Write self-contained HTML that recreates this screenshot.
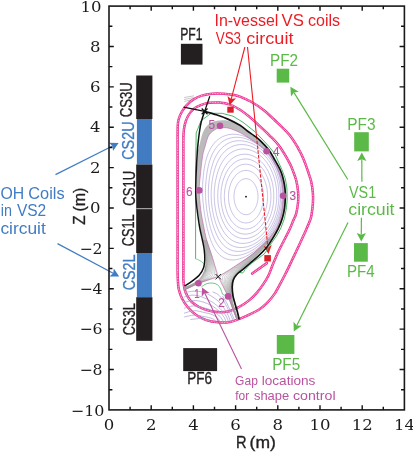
<!DOCTYPE html>
<html><head><meta charset="utf-8"><title>ITER PF/CS/VS coil layout</title>
<style>html,body{margin:0;padding:0;background:#fff}svg{display:block}</style></head>
<body>
<svg width="413" height="452" viewBox="0 0 413 452">
<rect width="413" height="452" fill="#fff"/>
<g id="coils">
<rect x="136.2" y="75.5" width="16.2" height="43.5" fill="#231f20"/>
<rect x="136.9" y="119.0" width="15.0" height="45.5" fill="#417cc3"/>
<rect x="136.2" y="164.5" width="16.2" height="43.9" fill="#231f20"/>
<rect x="136.2" y="208.4" width="16.2" height="44.6" fill="#231f20"/>
<rect x="136.9" y="253.0" width="15.0" height="44.2" fill="#417cc3"/>
<rect x="136.2" y="297.2" width="16.2" height="43.6" fill="#231f20"/>
<rect x="136.2" y="208.0" width="16.2" height="1.2" fill="#a0a0a0"/>
<rect x="180.9" y="43.8" width="21.6" height="20.8" fill="#231f20"/>
<rect x="183.2" y="348.1" width="33.9" height="23" fill="#231f20"/>
<rect x="276.7" y="68.7" width="12.5" height="13.9" fill="#5bb947"/>
<rect x="354.2" y="132.2" width="14.6" height="19.2" fill="#5bb947"/>
<rect x="354.0" y="243.1" width="13.8" height="18.6" fill="#5bb947"/>
<rect x="276.8" y="335.0" width="17.6" height="18.9" fill="#5bb947"/>
</g>
<g id="vessel">
<path d="M177.60 270.00 C177.63 273.95 177.62 275.55 177.80 278.70 C177.98 281.85 177.95 285.52 178.70 288.90 C179.45 292.28 180.72 295.85 182.30 299.00 C183.88 302.15 185.88 305.13 188.20 307.80 C190.52 310.47 193.18 312.95 196.20 315.00 C199.22 317.05 202.68 318.88 206.30 320.10 C209.92 321.32 213.95 321.98 217.90 322.30 C221.85 322.62 226.40 322.58 230.00 322.00 C233.60 321.42 236.47 319.95 239.50 318.80 C242.53 317.65 245.05 316.57 248.20 315.10 C251.35 313.63 255.25 312.05 258.40 310.00 C261.55 307.95 264.43 305.45 267.10 302.80 C269.77 300.15 272.22 297.25 274.40 294.10 C276.58 290.95 278.50 287.00 280.20 283.90 C281.90 280.80 283.23 278.17 284.60 275.50 C285.97 272.83 286.80 271.22 288.40 267.90 C290.00 264.58 292.27 259.72 294.20 255.60 C296.13 251.48 298.05 247.43 300.00 243.20 C301.95 238.97 304.20 234.07 305.90 230.20 C307.60 226.33 309.27 222.53 310.20 220.00 C311.13 217.47 311.05 217.77 311.50 215.00 C311.95 212.23 312.67 207.03 312.90 203.40 C313.13 199.77 313.18 196.83 312.90 193.20 C312.62 189.57 311.98 185.13 311.20 181.60 C310.42 178.07 309.47 175.73 308.20 172.00 C306.93 168.27 305.33 163.27 303.60 159.20 C301.87 155.13 300.22 151.72 297.80 147.60 C295.38 143.48 292.98 139.10 289.10 134.50 C285.22 129.90 278.82 124.12 274.50 120.00 C270.18 115.88 267.02 112.80 263.20 109.80 C259.38 106.80 255.47 104.20 251.60 102.00 C247.73 99.80 242.97 97.78 240.00 96.60 C237.03 95.42 236.53 95.38 233.80 94.90 C231.07 94.42 227.23 93.90 223.60 93.70 C219.97 93.50 215.63 93.38 212.00 93.70 C208.37 94.02 204.88 94.65 201.80 95.60 C198.72 96.55 196.05 97.78 193.50 99.40 C190.95 101.02 188.47 103.20 186.50 105.30 C184.53 107.40 182.98 109.72 181.70 112.00 C180.42 114.28 179.47 116.42 178.80 119.00 C178.13 121.58 177.90 120.67 177.70 127.50 C177.50 134.33 177.62 147.92 177.60 160.00 C177.58 172.08 177.60 186.67 177.60 200.00 C177.60 213.33 177.60 230.83 177.60 240.00 C177.60 249.17 177.60 250.00 177.60 255.00 C177.60 260.00 177.57 266.05 177.60 270.00Z" fill="none" stroke="#ec2a8f" stroke-width="2.5"/>
<path d="M177.60 270.00 C177.63 273.95 177.62 275.55 177.80 278.70 C177.98 281.85 177.95 285.52 178.70 288.90 C179.45 292.28 180.72 295.85 182.30 299.00 C183.88 302.15 185.88 305.13 188.20 307.80 C190.52 310.47 193.18 312.95 196.20 315.00 C199.22 317.05 202.68 318.88 206.30 320.10 C209.92 321.32 213.95 321.98 217.90 322.30 C221.85 322.62 226.40 322.58 230.00 322.00 C233.60 321.42 236.47 319.95 239.50 318.80 C242.53 317.65 245.05 316.57 248.20 315.10 C251.35 313.63 255.25 312.05 258.40 310.00 C261.55 307.95 264.43 305.45 267.10 302.80 C269.77 300.15 272.22 297.25 274.40 294.10 C276.58 290.95 278.50 287.00 280.20 283.90 C281.90 280.80 283.23 278.17 284.60 275.50 C285.97 272.83 286.80 271.22 288.40 267.90 C290.00 264.58 292.27 259.72 294.20 255.60 C296.13 251.48 298.05 247.43 300.00 243.20 C301.95 238.97 304.20 234.07 305.90 230.20 C307.60 226.33 309.27 222.53 310.20 220.00 C311.13 217.47 311.05 217.77 311.50 215.00 C311.95 212.23 312.67 207.03 312.90 203.40 C313.13 199.77 313.18 196.83 312.90 193.20 C312.62 189.57 311.98 185.13 311.20 181.60 C310.42 178.07 309.47 175.73 308.20 172.00 C306.93 168.27 305.33 163.27 303.60 159.20 C301.87 155.13 300.22 151.72 297.80 147.60 C295.38 143.48 292.98 139.10 289.10 134.50 C285.22 129.90 278.82 124.12 274.50 120.00 C270.18 115.88 267.02 112.80 263.20 109.80 C259.38 106.80 255.47 104.20 251.60 102.00 C247.73 99.80 242.97 97.78 240.00 96.60 C237.03 95.42 236.53 95.38 233.80 94.90 C231.07 94.42 227.23 93.90 223.60 93.70 C219.97 93.50 215.63 93.38 212.00 93.70 C208.37 94.02 204.88 94.65 201.80 95.60 C198.72 96.55 196.05 97.78 193.50 99.40 C190.95 101.02 188.47 103.20 186.50 105.30 C184.53 107.40 182.98 109.72 181.70 112.00 C180.42 114.28 179.47 116.42 178.80 119.00 C178.13 121.58 177.90 120.67 177.70 127.50 C177.50 134.33 177.62 147.92 177.60 160.00 C177.58 172.08 177.60 186.67 177.60 200.00 C177.60 213.33 177.60 230.83 177.60 240.00 C177.60 249.17 177.60 250.00 177.60 255.00 C177.60 260.00 177.57 266.05 177.60 270.00Z" fill="none" stroke="#fab8d7" stroke-width="1.1" stroke-dasharray="1.0 0.6"/>
<path d="M183.40 270.00 C183.40 274.20 183.22 277.05 183.40 280.20 C183.58 283.35 183.83 286.23 184.50 288.90 C185.17 291.57 186.18 294.02 187.40 296.20 C188.62 298.38 189.85 300.20 191.80 302.00 C193.75 303.80 196.43 305.60 199.10 307.00 C201.77 308.40 204.67 309.55 207.80 310.40 C210.93 311.25 214.53 311.92 217.90 312.10 C221.27 312.28 224.77 312.20 228.00 311.50 C231.23 310.80 234.90 308.98 237.30 307.90 C239.70 306.82 240.33 306.33 242.40 305.00 C244.47 303.67 247.27 301.97 249.70 299.90 C252.13 297.83 254.70 295.27 257.00 292.60 C259.30 289.93 261.57 286.80 263.50 283.90 C265.43 281.00 267.08 278.35 268.60 275.20 C270.12 272.05 271.00 268.87 272.60 265.00 C274.20 261.13 276.28 256.12 278.20 252.00 C280.12 247.88 282.15 244.18 284.10 240.30 C286.05 236.42 288.33 232.08 289.90 228.70 C291.47 225.32 292.45 222.52 293.50 220.00 C294.55 217.48 295.43 216.60 296.20 213.60 C296.97 210.60 297.78 205.63 298.10 202.00 C298.42 198.37 298.42 195.43 298.10 191.80 C297.78 188.17 297.08 183.75 296.20 180.20 C295.32 176.65 293.98 173.52 292.80 170.50 C291.62 167.48 291.42 166.25 289.10 162.10 C286.78 157.95 282.18 150.07 278.90 145.60 C275.62 141.13 272.55 138.50 269.40 135.30 C266.25 132.10 262.97 129.18 260.00 126.40 C257.03 123.62 254.93 121.37 251.60 118.60 C248.27 115.83 243.70 112.17 240.00 109.80 C236.30 107.43 232.87 105.60 229.40 104.40 C225.93 103.20 222.58 102.88 219.20 102.60 C215.82 102.32 212.20 102.28 209.10 102.70 C206.00 103.12 203.17 104.07 200.60 105.10 C198.03 106.13 195.80 107.08 193.70 108.90 C191.60 110.72 189.48 113.38 188.00 116.00 C186.52 118.62 185.55 121.50 184.80 124.60 C184.05 127.70 183.73 128.70 183.50 134.60 C183.27 140.50 183.42 149.10 183.40 160.00 C183.38 170.90 183.40 186.67 183.40 200.00 C183.40 213.33 183.40 230.83 183.40 240.00 C183.40 249.17 183.40 250.00 183.40 255.00 C183.40 260.00 183.40 265.80 183.40 270.00Z" fill="none" stroke="#ec2a8f" stroke-width="2.5"/>
<path d="M183.40 270.00 C183.40 274.20 183.22 277.05 183.40 280.20 C183.58 283.35 183.83 286.23 184.50 288.90 C185.17 291.57 186.18 294.02 187.40 296.20 C188.62 298.38 189.85 300.20 191.80 302.00 C193.75 303.80 196.43 305.60 199.10 307.00 C201.77 308.40 204.67 309.55 207.80 310.40 C210.93 311.25 214.53 311.92 217.90 312.10 C221.27 312.28 224.77 312.20 228.00 311.50 C231.23 310.80 234.90 308.98 237.30 307.90 C239.70 306.82 240.33 306.33 242.40 305.00 C244.47 303.67 247.27 301.97 249.70 299.90 C252.13 297.83 254.70 295.27 257.00 292.60 C259.30 289.93 261.57 286.80 263.50 283.90 C265.43 281.00 267.08 278.35 268.60 275.20 C270.12 272.05 271.00 268.87 272.60 265.00 C274.20 261.13 276.28 256.12 278.20 252.00 C280.12 247.88 282.15 244.18 284.10 240.30 C286.05 236.42 288.33 232.08 289.90 228.70 C291.47 225.32 292.45 222.52 293.50 220.00 C294.55 217.48 295.43 216.60 296.20 213.60 C296.97 210.60 297.78 205.63 298.10 202.00 C298.42 198.37 298.42 195.43 298.10 191.80 C297.78 188.17 297.08 183.75 296.20 180.20 C295.32 176.65 293.98 173.52 292.80 170.50 C291.62 167.48 291.42 166.25 289.10 162.10 C286.78 157.95 282.18 150.07 278.90 145.60 C275.62 141.13 272.55 138.50 269.40 135.30 C266.25 132.10 262.97 129.18 260.00 126.40 C257.03 123.62 254.93 121.37 251.60 118.60 C248.27 115.83 243.70 112.17 240.00 109.80 C236.30 107.43 232.87 105.60 229.40 104.40 C225.93 103.20 222.58 102.88 219.20 102.60 C215.82 102.32 212.20 102.28 209.10 102.70 C206.00 103.12 203.17 104.07 200.60 105.10 C198.03 106.13 195.80 107.08 193.70 108.90 C191.60 110.72 189.48 113.38 188.00 116.00 C186.52 118.62 185.55 121.50 184.80 124.60 C184.05 127.70 183.73 128.70 183.50 134.60 C183.27 140.50 183.42 149.10 183.40 160.00 C183.38 170.90 183.40 186.67 183.40 200.00 C183.40 213.33 183.40 230.83 183.40 240.00 C183.40 249.17 183.40 250.00 183.40 255.00 C183.40 260.00 183.40 265.80 183.40 270.00Z" fill="none" stroke="#fab8d7" stroke-width="1.1" stroke-dasharray="1.0 0.6"/>
<path d="M252.2 273.5 L266.8 263.1" fill="none" stroke="#ec2a8f" stroke-width="2.7" stroke-linecap="round"/>
<path d="M252.2 273.5 L266.8 263.1" fill="none" stroke="#fab8d7" stroke-width="1.3" stroke-dasharray="1.0 0.7"/>
</g>
<g id="plasma">
<path d="M203.00 240.00 C202.53 237.83 201.10 232.33 200.20 227.00 C199.30 221.67 198.22 213.17 197.60 208.00 C196.98 202.83 196.68 199.83 196.50 196.00 C196.32 192.17 196.43 189.00 196.50 185.00 C196.57 181.00 196.67 177.50 196.90 172.00 C197.13 166.50 197.62 155.83 197.90 152.00 C198.18 148.17 198.27 150.42 198.60 149.00 C198.93 147.58 199.40 145.58 199.90 143.50 C200.40 141.42 200.98 138.58 201.60 136.50 C202.22 134.42 202.80 132.67 203.60 131.00 C204.40 129.33 205.33 127.78 206.40 126.50 C207.47 125.22 208.63 124.17 210.00 123.30 C211.37 122.43 212.85 121.78 214.60 121.30 C216.35 120.82 218.18 120.45 220.50 120.40 C222.82 120.35 225.25 120.18 228.50 121.00 C231.75 121.82 236.80 123.58 240.00 125.30 C243.20 127.02 245.37 129.58 247.70 131.30 C250.03 133.02 251.95 134.10 254.00 135.60 C256.05 137.10 257.55 137.93 260.00 140.30 C262.45 142.67 266.37 146.77 268.70 149.80 C271.03 152.83 272.07 155.13 274.00 158.50 C275.93 161.87 278.77 166.63 280.30 170.00 C281.83 173.37 282.42 175.55 283.20 178.70 C283.98 181.85 284.65 185.75 285.00 188.90 C285.35 192.05 285.37 194.45 285.30 197.60 C285.23 200.75 285.08 204.42 284.60 207.80 C284.12 211.18 283.47 214.42 282.40 217.90 C281.33 221.38 279.97 225.25 278.20 228.70 C276.43 232.15 272.87 236.95 271.80 238.60 L268.50 239.00 C269.83 237.08 274.45 231.33 276.50 227.50 C278.55 223.67 279.77 219.58 280.80 216.00 C281.83 212.42 282.32 209.37 282.70 206.00 C283.08 202.63 283.17 199.47 283.10 195.80 C283.03 192.13 282.98 187.88 282.30 184.00 C281.62 180.12 280.55 176.42 279.00 172.50 C277.45 168.58 275.07 164.03 273.00 160.50 C270.93 156.97 269.02 153.92 266.60 151.30 C264.18 148.68 261.27 146.88 258.50 144.80 C255.73 142.72 253.08 140.83 250.00 138.80 C246.92 136.77 243.67 134.40 240.00 132.60 C236.33 130.80 231.33 128.73 228.00 128.00 C224.67 127.27 222.07 127.98 220.00 128.20 C217.93 128.42 217.20 128.47 215.60 129.30 C214.00 130.13 211.73 131.75 210.40 133.20 C209.07 134.65 208.47 135.87 207.60 138.00 C206.73 140.13 206.03 143.00 205.20 146.00 C204.37 149.00 203.42 151.03 202.60 156.00 C201.78 160.97 200.87 170.07 200.30 175.80 C199.73 181.53 199.12 184.70 199.20 190.40 C199.28 196.10 200.10 204.23 200.80 210.00 C201.50 215.77 202.43 220.00 203.40 225.00 C204.37 230.00 206.07 237.50 206.60 240.00Z" fill="#bbbbbb" stroke="none"/>
<path d="M203.09 240.00 L203.49 241.78 L203.87 243.56 L204.25 245.35 L204.61 247.13 L204.94 248.92 L205.25 250.71 L205.53 252.50 L205.76 254.30 L205.95 256.10 L206.08 257.90 L206.14 259.70 L206.13 261.49 L206.03 263.26 L205.85 265.02 L205.57 266.74 L205.20 268.40 L204.74 270.00 L204.21 271.51 L203.61 272.93 L202.94 274.25 L202.24 275.46 L201.49 276.58 L200.71 277.61 L199.90 278.57 L199.06 279.45 L198.19 280.27 L197.28 281.04 L196.33 281.75 L195.36 282.42 L194.35 283.05 L193.32 283.63 L192.26 284.19 L191.18 284.71 L190.09 285.21 L188.99 285.68 L187.87 286.11 L186.73 286.52 L185.58 286.88 L184.42 287.20" fill="none" stroke="#a0a0a0" stroke-width="0.50"/>
<path d="M203.31 240.00 L203.71 241.79 L204.11 243.57 L204.49 245.36 L204.85 247.14 L205.18 248.93 L205.49 250.73 L205.75 252.52 L205.98 254.32 L206.16 256.12 L206.28 257.92 L206.33 259.72 L206.30 261.51 L206.19 263.29 L205.99 265.05 L205.70 266.77 L205.32 268.44 L204.85 270.05 L204.30 271.57 L203.69 272.99 L203.02 274.31 L202.31 275.52 L201.57 276.63 L200.80 277.65 L200.00 278.60 L199.17 279.48 L198.31 280.30 L197.41 281.06 L196.48 281.78 L195.51 282.44 L194.50 283.07 L193.47 283.66 L192.40 284.22 L191.32 284.76 L190.21 285.28 L189.09 285.76 L187.95 286.22 L186.79 286.65 L185.61 287.04 L184.42 287.40" fill="none" stroke="#a0a0a0" stroke-width="0.50"/>
<path d="M203.53 240.00 L203.95 241.79 L204.35 243.58 L204.74 245.37 L205.11 247.16 L205.44 248.95 L205.75 250.75 L206.02 252.55 L206.24 254.34 L206.42 256.15 L206.53 257.95 L206.57 259.75 L206.53 261.54 L206.41 263.32 L206.20 265.09 L205.90 266.82 L205.50 268.50 L205.01 270.11 L204.45 271.63 L203.83 273.06 L203.16 274.37 L202.45 275.58 L201.72 276.68 L200.96 277.70 L200.17 278.64 L199.36 279.51 L198.51 280.33 L197.62 281.09 L196.69 281.80 L195.71 282.46 L194.70 283.09 L193.66 283.68 L192.58 284.26 L191.48 284.81 L190.36 285.34 L189.21 285.85 L188.04 286.33 L186.86 286.79 L185.65 287.21 L184.43 287.60" fill="none" stroke="#a0a0a0" stroke-width="0.50"/>
<path d="M203.76 240.00 L204.19 241.79 L204.60 243.59 L205.00 245.39 L205.38 247.18 L205.73 248.98 L206.04 250.78 L206.31 252.57 L206.54 254.38 L206.72 256.18 L206.83 257.98 L206.87 259.78 L206.83 261.58 L206.70 263.37 L206.48 265.13 L206.16 266.87 L205.75 268.56 L205.25 270.18 L204.67 271.71 L204.04 273.13 L203.36 274.45 L202.66 275.64 L201.93 276.74 L201.18 277.75 L200.41 278.68 L199.61 279.54 L198.76 280.35 L197.88 281.11 L196.95 281.81 L195.97 282.48 L194.94 283.10 L193.88 283.70 L192.79 284.28 L191.67 284.84 L190.52 285.39 L189.34 285.93 L188.15 286.44 L186.93 286.92 L185.69 287.37 L184.44 287.79" fill="none" stroke="#a0a0a0" stroke-width="0.50"/>
<path d="M203.99 240.00 L204.43 241.80 L204.86 243.60 L205.27 245.40 L205.66 247.20 L206.02 249.00 L206.35 250.80 L206.63 252.61 L206.87 254.41 L207.05 256.21 L207.16 258.02 L207.21 259.82 L207.17 261.62 L207.04 263.41 L206.82 265.19 L206.49 266.93 L206.07 268.63 L205.56 270.25 L204.98 271.79 L204.33 273.22 L203.65 274.53 L202.95 275.72 L202.23 276.81 L201.49 277.80 L200.72 278.72 L199.93 279.58 L199.09 280.38 L198.20 281.13 L197.25 281.83 L196.26 282.49 L195.22 283.12 L194.14 283.72 L193.02 284.30 L191.87 284.88 L190.69 285.45 L189.48 286.00 L188.25 286.54 L187.00 287.05 L185.73 287.53 L184.45 287.98" fill="none" stroke="#a0a0a0" stroke-width="0.50"/>
<path d="M204.21 240.00 L204.67 241.81 L205.12 243.61 L205.55 245.42 L205.95 247.22 L206.33 249.03 L206.67 250.84 L206.96 252.64 L207.21 254.45 L207.41 256.26 L207.54 258.06 L207.59 259.87 L207.56 261.67 L207.44 263.47 L207.22 265.25 L206.90 267.00 L206.48 268.70 L205.96 270.34 L205.37 271.89 L204.72 273.32 L204.03 274.63 L203.33 275.81 L202.61 276.88 L201.88 277.86 L201.12 278.76 L200.32 279.61 L199.47 280.40 L198.57 281.15 L197.61 281.84 L196.59 282.50 L195.52 283.12 L194.41 283.73 L193.26 284.32 L192.08 284.91 L190.86 285.50 L189.63 286.08 L188.37 286.64 L187.08 287.18 L185.78 287.69 L184.46 288.17" fill="none" stroke="#a0a0a0" stroke-width="0.50"/>
<path d="M204.44 240.00 L204.92 241.81 L205.38 243.62 L205.83 245.44 L206.25 247.25 L206.64 249.06 L207.00 250.87 L207.31 252.68 L207.58 254.49 L207.79 256.30 L207.94 258.11 L208.01 259.92 L208.00 261.73 L207.90 263.53 L207.70 265.31 L207.38 267.07 L206.97 268.79 L206.45 270.44 L205.86 272.00 L205.20 273.43 L204.51 274.74 L203.81 275.91 L203.09 276.96 L202.36 277.92 L201.59 278.81 L200.78 279.64 L199.92 280.43 L198.99 281.16 L198.00 281.85 L196.95 282.50 L195.85 283.12 L194.70 283.73 L193.51 284.33 L192.29 284.94 L191.05 285.55 L189.78 286.15 L188.48 286.74 L187.16 287.30 L185.82 287.84 L184.46 288.35" fill="none" stroke="#a0a0a0" stroke-width="0.50"/>
<path d="M204.67 240.00 L205.17 241.82 L205.65 243.64 L206.11 245.45 L206.55 247.27 L206.96 249.09 L207.34 250.90 L207.67 252.72 L207.96 254.53 L208.20 256.35 L208.37 258.17 L208.47 259.98 L208.49 261.79 L208.41 263.60 L208.23 265.39 L207.95 267.16 L207.55 268.89 L207.05 270.56 L206.45 272.12 L205.80 273.57 L205.11 274.86 L204.40 276.02 L203.68 277.05 L202.94 277.99 L202.15 278.86 L201.32 279.68 L200.43 280.45 L199.46 281.17 L198.44 281.85 L197.35 282.50 L196.20 283.12 L195.01 283.73 L193.78 284.34 L192.52 284.96 L191.24 285.59 L189.93 286.22 L188.59 286.83 L187.24 287.43 L185.86 288.00 L184.47 288.54" fill="none" stroke="#a0a0a0" stroke-width="0.50"/>
<path d="M204.90 240.00 L205.41 241.82 L205.91 243.65 L206.39 245.47 L206.85 247.29 L207.28 249.12 L207.68 250.94 L208.05 252.76 L208.36 254.58 L208.63 256.40 L208.83 258.22 L208.96 260.04 L209.01 261.86 L208.97 263.67 L208.83 265.47 L208.58 267.25 L208.22 269.00 L207.75 270.68 L207.17 272.27 L206.53 273.72 L205.83 275.01 L205.12 276.14 L204.38 277.15 L203.61 278.06 L202.80 278.91 L201.93 279.71 L200.99 280.47 L199.98 281.18 L198.90 281.85 L197.76 282.49 L196.57 283.11 L195.33 283.73 L194.05 284.35 L192.75 284.99 L191.43 285.63 L190.08 286.28 L188.71 286.93 L187.31 287.55 L185.90 288.15 L184.48 288.72" fill="none" stroke="#a0a0a0" stroke-width="0.50"/>
<path d="M205.13 240.00 L205.66 241.83 L206.17 243.66 L206.67 245.49 L207.15 247.32 L207.61 249.15 L208.04 250.97 L208.43 252.80 L208.77 254.63 L209.07 256.46 L209.31 258.28 L209.48 260.11 L209.57 261.93 L209.58 263.75 L209.49 265.56 L209.30 267.35 L208.99 269.11 L208.57 270.82 L208.03 272.43 L207.39 273.89 L206.70 275.17 L205.97 276.29 L205.21 277.26 L204.40 278.14 L203.53 278.97 L202.61 279.75 L201.61 280.49 L200.54 281.19 L199.40 281.85 L198.20 282.48 L196.95 283.10 L195.66 283.72 L194.33 284.35 L192.99 285.01 L191.62 285.68 L190.23 286.35 L188.82 287.02 L187.39 287.67 L185.95 288.30 L184.49 288.90" fill="none" stroke="#a0a0a0" stroke-width="0.50"/>
<path d="M205.36 240.00 L205.90 241.84 L206.44 243.67 L206.96 245.51 L207.46 247.34 L207.94 249.18 L208.39 251.01 L208.81 252.84 L209.19 254.68 L209.53 256.51 L209.81 258.35 L210.02 260.18 L210.17 262.01 L210.24 263.84 L210.21 265.65 L210.09 267.46 L209.86 269.24 L209.51 270.97 L209.02 272.61 L208.42 274.09 L207.73 275.37 L206.98 276.45 L206.16 277.38 L205.29 278.23 L204.35 279.02 L203.35 279.78 L202.28 280.51 L201.14 281.19 L199.93 281.84 L198.66 282.46 L197.34 283.07 L195.99 283.70 L194.62 284.35 L193.23 285.03 L191.81 285.72 L190.38 286.41 L188.93 287.11 L187.47 287.79 L185.98 288.44 L184.49 289.08" fill="none" stroke="#a0a0a0" stroke-width="0.50"/>
<path d="M205.58 240.00 L206.15 241.84 L206.70 243.68 L207.24 245.53 L207.76 247.37 L208.27 249.21 L208.75 251.05 L209.21 252.89 L209.62 254.73 L209.99 256.57 L210.32 258.41 L210.59 260.26 L210.80 262.09 L210.93 263.93 L210.99 265.76 L210.95 267.57 L210.82 269.37 L210.57 271.13 L210.18 272.81 L209.63 274.32 L208.95 275.59 L208.15 276.63 L207.25 277.51 L206.29 278.31 L205.25 279.08 L204.16 279.81 L203.00 280.52 L201.77 281.19 L200.48 281.83 L199.13 282.44 L197.75 283.05 L196.33 283.68 L194.91 284.35 L193.47 285.05 L192.01 285.76 L190.54 286.48 L189.05 287.20 L187.54 287.90 L186.02 288.59 L184.49 289.25" fill="none" stroke="#a0a0a0" stroke-width="0.50"/>
<path d="M205.81 240.00 L206.39 241.85 L206.96 243.70 L207.52 245.55 L208.07 247.39 L208.60 249.24 L209.11 251.09 L209.60 252.93 L210.06 254.78 L210.47 256.63 L210.85 258.48 L211.18 260.33 L211.45 262.18 L211.67 264.03 L211.81 265.87 L211.88 267.70 L211.87 269.51 L211.75 271.30 L211.49 273.03 L211.04 274.58 L210.37 275.84 L209.49 276.82 L208.48 277.65 L207.39 278.41 L206.23 279.14 L205.02 279.85 L203.76 280.53 L202.43 281.18 L201.05 281.81 L199.62 282.41 L198.16 283.02 L196.68 283.66 L195.20 284.34 L193.71 285.07 L192.20 285.80 L190.69 286.54 L189.16 287.28 L187.61 288.01 L186.06 288.73 L184.50 289.42" fill="none" stroke="#a0a0a0" stroke-width="0.50"/>
<path d="M206.04 240.00 L206.63 241.85 L207.22 243.71 L207.80 245.56 L208.37 247.42 L208.93 249.27 L209.48 251.12 L210.01 252.98 L210.50 254.83 L210.96 256.69 L211.39 258.55 L211.78 260.42 L212.13 262.27 L212.44 264.13 L212.69 265.98 L212.88 267.83 L213.01 269.66 L213.06 271.48 L212.98 273.26 L212.69 274.88 L212.03 276.13 L211.01 277.04 L209.83 277.79 L208.59 278.50 L207.29 279.20 L205.95 279.87 L204.56 280.53 L203.12 281.17 L201.64 281.79 L200.12 282.38 L198.58 282.98 L197.03 283.63 L195.49 284.34 L193.95 285.09 L192.40 285.85 L190.84 286.61 L189.26 287.37 L187.68 288.12 L186.09 288.86 L184.50 289.59" fill="none" stroke="#a0a0a0" stroke-width="0.50"/>
<path d="M206.26 240.00 L206.87 241.86 L207.48 243.72 L208.08 245.58 L208.67 247.44 L209.26 249.30 L209.84 251.16 L210.41 253.02 L210.95 254.89 L211.46 256.76 L211.94 258.63 L212.40 260.50 L212.84 262.37 L213.24 264.24 L213.61 266.10 L213.94 267.96 L214.23 269.82 L214.47 271.67 L214.63 273.50 L214.61 275.22 L213.97 276.47 L212.71 277.25 L211.32 277.93 L209.89 278.60 L208.42 279.26 L206.92 279.90 L205.39 280.53 L203.84 281.15 L202.25 281.76 L200.63 282.35 L199.00 282.94 L197.38 283.59 L195.79 284.34 L194.20 285.11 L192.59 285.89 L190.99 286.67 L189.37 287.45 L187.75 288.23 L186.13 289.00 L184.50 289.76" fill="none" stroke="#a0a0a0" stroke-width="0.50"/>
<path d="M206.49 240.00 L207.11 241.87 L207.74 243.73 L208.36 245.60 L208.98 247.47 L209.59 249.33 L210.21 251.20 L210.82 253.07 L211.41 254.94 L211.96 256.82 L212.50 258.70 L213.04 260.59 L213.57 262.47 L214.08 264.35 L214.58 266.23 L215.07 268.11 L215.54 269.99 L215.99 271.87 L216.41 273.74 L216.79 275.60 L216.18 276.84 L214.56 277.47 L212.93 278.09 L211.28 278.71 L209.62 279.32 L207.95 279.93 L206.27 280.53 L204.58 281.13 L202.87 281.72 L201.16 282.31 L199.44 282.90 L197.74 283.55 L196.09 284.34 L194.44 285.14 L192.79 285.94 L191.13 286.73 L189.48 287.53 L187.82 288.33 L186.16 289.13 L184.50 289.92" fill="none" stroke="#a0a0a0" stroke-width="0.50"/>
<path d="M271.62 238.54 L269.95 240.70 L268.25 242.83 L266.52 244.93 L264.75 246.99 L262.93 249.01 L261.06 250.98 L259.16 252.91 L257.21 254.80 L255.23 256.65 L253.23 258.48 L251.20 260.28 L249.16 262.07 L247.12 263.84 L245.10 265.62 L243.11 267.41 L241.20 269.22 L239.38 271.07 L237.70 272.97 L236.18 274.92 L234.86 276.93 L233.74 278.99 L232.84 281.12 L232.16 283.29 L231.67 285.51 L231.38 287.75 L231.25 290.02 L231.26 292.30 L231.41 294.59 L231.66 296.87 L232.02 299.15 L232.45 301.42 L232.95 303.68 L233.51 305.92 L234.13 308.16 L234.80 310.38 L235.51 312.59 L236.25 314.79 L237.02 316.99 L237.82 319.17" fill="none" stroke="#a0a0a0" stroke-width="0.50"/>
<path d="M271.44 238.57 L269.75 240.74 L268.03 242.88 L266.28 244.99 L264.49 247.05 L262.66 249.07 L260.80 251.04 L258.90 252.97 L256.96 254.86 L255.00 256.71 L253.01 258.53 L251.00 260.32 L248.98 262.10 L246.96 263.87 L244.95 265.63 L242.97 267.41 L241.05 269.22 L239.24 271.06 L237.55 272.95 L236.02 274.89 L234.69 276.90 L233.58 278.97 L232.68 281.10 L232.00 283.28 L231.52 285.50 L231.23 287.75 L231.11 290.02 L231.13 292.30 L231.28 294.59 L231.54 296.87 L231.90 299.14 L232.34 301.41 L232.84 303.67 L233.41 305.91 L234.03 308.14 L234.70 310.36 L235.42 312.57 L236.16 314.77 L236.94 316.96 L237.73 319.15" fill="none" stroke="#a0a0a0" stroke-width="0.50"/>
<path d="M271.26 238.61 L269.53 240.79 L267.78 242.93 L266.00 245.05 L264.20 247.12 L262.36 249.14 L260.48 251.11 L258.58 253.04 L256.64 254.93 L254.69 256.77 L252.71 258.59 L250.71 260.38 L248.71 262.15 L246.70 263.90 L244.71 265.66 L242.74 267.43 L240.83 269.22 L239.02 271.05 L237.33 272.94 L235.80 274.88 L234.47 276.88 L233.35 278.95 L232.46 281.08 L231.78 283.26 L231.32 285.49 L231.03 287.74 L230.92 290.02 L230.96 292.30 L231.12 294.59 L231.39 296.87 L231.76 299.14 L232.20 301.40 L232.72 303.66 L233.30 305.90 L233.93 308.13 L234.60 310.34 L235.32 312.55 L236.07 314.75 L236.85 316.94 L237.65 319.13" fill="none" stroke="#a0a0a0" stroke-width="0.50"/>
<path d="M271.06 238.64 L269.30 240.83 L267.52 242.99 L265.71 245.11 L263.88 247.19 L262.02 249.21 L260.13 251.19 L258.21 253.12 L256.27 255.00 L254.31 256.85 L252.34 258.66 L250.36 260.44 L248.36 262.21 L246.37 263.95 L244.39 265.70 L242.43 267.46 L240.53 269.24 L238.72 271.06 L237.03 272.93 L235.50 274.87 L234.17 276.87 L233.06 278.94 L232.18 281.07 L231.51 283.26 L231.06 285.49 L230.79 287.75 L230.69 290.02 L230.75 292.30 L230.93 294.59 L231.22 296.86 L231.60 299.13 L232.06 301.39 L232.59 303.64 L233.17 305.88 L233.81 308.11 L234.50 310.32 L235.22 312.53 L235.98 314.73 L236.76 316.92 L237.57 319.11" fill="none" stroke="#a0a0a0" stroke-width="0.50"/>
<path d="M270.87 238.68 L269.07 240.87 L267.25 243.04 L265.41 245.17 L263.55 247.26 L261.66 249.29 L259.75 251.27 L257.81 253.20 L255.86 255.09 L253.89 256.93 L251.91 258.74 L249.93 260.52 L247.94 262.28 L245.96 264.02 L243.98 265.75 L242.04 267.50 L240.14 269.27 L238.33 271.08 L236.64 272.94 L235.12 274.87 L233.79 276.87 L232.69 278.94 L231.82 281.07 L231.17 283.26 L230.74 285.49 L230.50 287.75 L230.43 290.03 L230.50 292.31 L230.71 294.59 L231.02 296.86 L231.42 299.13 L231.90 301.38 L232.45 303.63 L233.05 305.86 L233.70 308.09 L234.39 310.30 L235.12 312.51 L235.89 314.71 L236.68 316.90 L237.49 319.08" fill="none" stroke="#a0a0a0" stroke-width="0.50"/>
<path d="M270.67 238.71 L268.83 240.91 L266.97 243.09 L265.10 245.23 L263.21 247.33 L261.29 249.37 L259.35 251.36 L257.38 253.29 L255.41 255.18 L253.42 257.03 L251.43 258.83 L249.44 260.61 L247.45 262.36 L245.47 264.09 L243.49 265.82 L241.55 267.55 L239.65 269.31 L237.84 271.11 L236.16 272.96 L234.64 274.88 L233.32 276.87 L232.23 278.94 L231.38 281.08 L230.77 283.27 L230.36 285.51 L230.15 287.77 L230.12 290.04 L230.23 292.32 L230.47 294.60 L230.81 296.86 L231.24 299.12 L231.74 301.37 L232.30 303.61 L232.92 305.85 L233.58 308.07 L234.28 310.28 L235.02 312.48 L235.80 314.68 L236.59 316.87 L237.41 319.06" fill="none" stroke="#a0a0a0" stroke-width="0.50"/>
<path d="M270.47 238.75 L268.58 240.95 L266.69 243.14 L264.78 245.29 L262.85 247.40 L260.90 249.45 L258.92 251.45 L256.93 253.39 L254.92 255.28 L252.91 257.12 L250.90 258.93 L248.89 260.70 L246.89 262.45 L244.90 264.18 L242.92 265.89 L240.97 267.62 L239.07 269.36 L237.25 271.15 L235.56 272.99 L234.05 274.90 L232.74 276.89 L231.68 278.96 L230.86 281.10 L230.28 283.30 L229.92 285.53 L229.76 287.79 L229.77 290.06 L229.92 292.33 L230.20 294.60 L230.58 296.86 L231.04 299.11 L231.57 301.36 L232.15 303.60 L232.79 305.83 L233.46 308.04 L234.18 310.26 L234.93 312.46 L235.71 314.66 L236.51 316.85 L237.33 319.04" fill="none" stroke="#a0a0a0" stroke-width="0.50"/>
<path d="M270.26 238.78 L268.34 240.99 L266.40 243.19 L264.46 245.35 L262.49 247.47 L260.50 249.54 L258.49 251.54 L256.45 253.49 L254.41 255.38 L252.37 257.23 L250.33 259.04 L248.29 260.81 L246.26 262.55 L244.25 264.27 L242.25 265.99 L240.29 267.70 L238.37 269.43 L236.55 271.20 L234.85 273.03 L233.33 274.93 L232.04 276.92 L231.01 278.99 L230.24 281.13 L229.72 283.33 L229.42 285.56 L229.32 287.82 L229.39 290.08 L229.60 292.35 L229.92 294.61 L230.34 296.86 L230.84 299.11 L231.40 301.35 L232.00 303.58 L232.65 305.80 L233.34 308.02 L234.07 310.23 L234.83 312.43 L235.62 314.63 L236.43 316.82 L237.25 319.01" fill="none" stroke="#a0a0a0" stroke-width="0.50"/>
<path d="M270.06 238.81 L268.09 241.03 L266.11 243.24 L264.13 245.41 L262.12 247.54 L260.09 249.62 L258.03 251.63 L255.96 253.59 L253.87 255.49 L251.79 257.34 L249.71 259.15 L247.63 260.92 L245.57 262.66 L243.53 264.38 L241.50 266.09 L239.51 267.80 L237.57 269.52 L235.72 271.28 L234.00 273.09 L232.48 274.98 L231.21 276.96 L230.23 279.03 L229.53 281.17 L229.08 283.37 L228.86 285.60 L228.83 287.85 L228.97 290.11 L229.24 292.36 L229.63 294.61 L230.10 296.86 L230.64 299.09 L231.22 301.33 L231.85 303.56 L232.52 305.78 L233.23 308.00 L233.97 310.20 L234.74 312.41 L235.53 314.60 L236.34 316.80 L237.17 318.99" fill="none" stroke="#a0a0a0" stroke-width="0.50"/>
<path d="M269.85 238.83 L267.84 241.07 L265.82 243.28 L263.79 245.47 L261.75 247.62 L259.67 249.70 L257.57 251.73 L255.45 253.69 L253.32 255.60 L251.18 257.45 L249.05 259.26 L246.93 261.04 L244.82 262.79 L242.73 264.50 L240.67 266.21 L238.63 267.91 L236.65 269.62 L234.75 271.37 L233.00 273.16 L231.47 275.04 L230.23 277.01 L229.31 279.08 L228.70 281.22 L228.36 283.42 L228.24 285.65 L228.30 287.90 L228.52 290.14 L228.87 292.38 L229.32 294.62 L229.85 296.85 L230.43 299.08 L231.05 301.31 L231.70 303.53 L232.39 305.75 L233.11 307.97 L233.86 310.18 L234.64 312.38 L235.45 314.58 L236.26 316.77 L237.09 318.96" fill="none" stroke="#a0a0a0" stroke-width="0.50"/>
<path d="M269.64 238.86 L267.58 241.10 L265.52 243.33 L263.46 245.53 L261.37 247.69 L259.25 249.79 L257.10 251.83 L254.93 253.80 L252.74 255.71 L250.55 257.57 L248.36 259.39 L246.18 261.17 L244.02 262.91 L241.87 264.64 L239.75 266.34 L237.66 268.04 L235.61 269.74 L233.65 271.47 L231.84 273.25 L230.28 275.11 L229.07 277.08 L228.25 279.14 L227.77 281.29 L227.56 283.49 L227.56 285.71 L227.73 287.94 L228.05 290.18 L228.48 292.40 L229.01 294.62 L229.59 296.84 L230.22 299.07 L230.87 301.29 L231.55 303.51 L232.26 305.73 L233.00 307.94 L233.76 310.15 L234.55 312.35 L235.36 314.55 L236.18 316.74 L237.01 318.94" fill="none" stroke="#a0a0a0" stroke-width="0.50"/>
<path d="M269.43 238.89 L267.33 241.13 L265.23 243.37 L263.12 245.58 L260.99 247.76 L258.83 249.87 L256.63 251.92 L254.40 253.91 L252.15 255.83 L249.90 257.69 L247.64 259.51 L245.39 261.30 L243.16 263.05 L240.94 264.78 L238.75 266.48 L236.58 268.18 L234.46 269.89 L232.41 271.61 L230.51 273.37 L228.90 275.20 L227.73 277.16 L227.04 279.23 L226.73 281.38 L226.68 283.57 L226.83 285.78 L227.13 288.00 L227.55 290.21 L228.08 292.42 L228.69 294.63 L229.34 296.83 L230.01 299.05 L230.70 301.27 L231.40 303.49 L232.13 305.70 L232.89 307.91 L233.66 310.12 L234.46 312.32 L235.28 314.52 L236.11 316.72 L236.94 318.91" fill="none" stroke="#a0a0a0" stroke-width="0.50"/>
<path d="M269.22 238.91 L267.07 241.16 L264.92 243.40 L262.77 245.63 L260.60 247.82 L258.40 249.96 L256.15 252.02 L253.86 254.02 L251.55 255.95 L249.22 257.82 L246.89 259.64 L244.56 261.43 L242.25 263.19 L239.95 264.93 L237.66 266.64 L235.41 268.35 L233.20 270.05 L231.03 271.76 L228.99 273.50 L227.29 275.31 L226.17 277.25 L225.67 279.33 L225.59 281.48 L225.73 283.66 L226.05 285.86 L226.49 288.06 L227.04 290.25 L227.67 292.44 L228.37 294.63 L229.09 296.82 L229.80 299.03 L230.52 301.24 L231.26 303.46 L232.01 305.67 L232.78 307.88 L233.57 310.09 L234.38 312.29 L235.20 314.49 L236.03 316.69 L236.86 318.89" fill="none" stroke="#a0a0a0" stroke-width="0.50"/>
<path d="M269.02 238.94 L266.82 241.19 L264.62 243.44 L262.43 245.68 L260.22 247.89 L257.96 250.04 L255.66 252.12 L253.32 254.13 L250.94 256.08 L248.53 257.95 L246.11 259.77 L243.70 261.57 L241.29 263.34 L238.89 265.08 L236.51 266.81 L234.15 268.53 L231.81 270.24 L229.51 271.94 L227.29 273.65 L225.41 275.43 L224.35 277.37 L224.15 279.45 L224.35 281.60 L224.72 283.76 L225.22 285.94 L225.82 288.12 L226.50 290.29 L227.25 292.46 L228.04 294.63 L228.83 296.80 L229.60 299.00 L230.35 301.22 L231.11 303.43 L231.88 305.64 L232.67 307.85 L233.48 310.06 L234.29 312.26 L235.12 314.46 L235.95 316.66 L236.79 318.86" fill="none" stroke="#a0a0a0" stroke-width="0.50"/>
<path d="M268.81 238.96 L266.56 241.22 L264.32 243.47 L262.08 245.72 L259.83 247.95 L257.53 250.13 L255.16 252.21 L252.76 254.25 L250.32 256.21 L247.82 258.07 L245.31 259.90 L242.80 261.72 L240.29 263.50 L237.78 265.25 L235.28 266.99 L232.79 268.72 L230.32 270.44 L227.86 272.14 L225.43 273.84 L223.23 275.58 L222.25 277.50 L222.50 279.60 L223.02 281.73 L223.64 283.88 L224.35 286.03 L225.12 288.19 L225.95 290.34 L226.81 292.48 L227.71 294.62 L228.59 296.78 L229.39 298.98 L230.17 301.19 L230.96 303.40 L231.76 305.61 L232.57 307.82 L233.38 310.03 L234.21 312.23 L235.04 314.43 L235.88 316.64 L236.71 318.84" fill="none" stroke="#a0a0a0" stroke-width="0.50"/>
<path d="M268.60 238.99 L266.31 241.24 L264.01 243.50 L261.72 245.75 L259.43 248.00 L257.10 250.22 L254.66 252.29 L252.20 254.35 L249.70 256.35 L247.10 258.20 L244.48 260.03 L241.88 261.87 L239.25 263.66 L236.61 265.42 L233.97 267.18 L231.34 268.93 L228.71 270.68 L226.06 272.37 L223.42 274.06 L220.79 275.75 L219.89 277.65 L220.73 279.77 L221.60 281.89 L222.50 284.01 L223.44 286.13 L224.40 288.26 L225.38 290.38 L226.37 292.50 L227.38 294.62 L228.35 296.76 L229.18 298.96 L229.99 301.17 L230.81 303.37 L231.64 305.58 L232.47 307.79 L233.30 309.99 L234.13 312.20 L234.96 314.40 L235.80 316.61 L236.64 318.81" fill="none" stroke="#a0a0a0" stroke-width="0.50"/>
<path d="M234.00 196.70 C234.00 196.91 234.00 197.12 234.01 197.33 C234.01 197.54 234.02 197.75 234.03 197.96 C234.04 198.17 234.05 198.38 234.07 198.59 C234.08 198.80 234.10 199.01 234.12 199.23 C234.14 199.44 234.16 199.65 234.19 199.87 C234.21 200.08 234.24 200.29 234.27 200.51 C234.30 200.73 234.34 200.94 234.37 201.16 C234.41 201.38 234.45 201.60 234.50 201.82 C234.54 202.04 234.59 202.27 234.64 202.49 C234.69 202.71 234.74 202.94 234.80 203.17 C234.86 203.39 234.92 203.62 234.99 203.85 C235.05 204.08 235.12 204.31 235.20 204.55 C235.28 204.78 235.35 205.01 235.44 205.25 C235.52 205.49 235.61 205.73 235.71 205.96 C235.81 206.20 235.91 206.44 236.01 206.69 C236.12 206.93 236.23 207.17 236.35 207.41 C236.47 207.65 236.60 207.90 236.73 208.14 C236.87 208.39 237.01 208.63 237.16 208.87 C237.30 209.11 237.46 209.36 237.62 209.60 C237.79 209.84 237.96 210.07 238.14 210.31 C238.32 210.54 238.51 210.78 238.71 211.00 C238.91 211.23 239.12 211.46 239.33 211.67 C239.55 211.89 239.78 212.10 240.01 212.30 C240.25 212.50 240.49 212.70 240.74 212.88 C240.99 213.07 241.25 213.24 241.52 213.40 C241.79 213.57 242.07 213.72 242.35 213.85 C242.64 213.99 242.93 214.11 243.23 214.21 C243.52 214.32 243.83 214.41 244.13 214.48 C244.44 214.55 244.75 214.61 245.06 214.64 C245.37 214.68 245.69 214.70 246.00 214.70 C246.31 214.70 246.63 214.68 246.94 214.64 C247.25 214.61 247.56 214.55 247.87 214.48 C248.17 214.41 248.48 214.31 248.77 214.21 C249.07 214.10 249.36 213.98 249.64 213.85 C249.93 213.71 250.21 213.56 250.47 213.40 C250.74 213.24 251.00 213.06 251.26 212.88 C251.51 212.69 251.75 212.50 251.99 212.29 C252.22 212.09 252.45 211.88 252.66 211.66 C252.88 211.45 253.09 211.22 253.28 211.00 C253.48 210.77 253.67 210.54 253.85 210.30 C254.03 210.07 254.21 209.83 254.37 209.59 C254.54 209.35 254.69 209.11 254.84 208.87 C254.99 208.62 255.13 208.38 255.26 208.14 C255.40 207.90 255.52 207.65 255.64 207.41 C255.76 207.17 255.87 206.92 255.98 206.68 C256.09 206.44 256.19 206.20 256.29 205.96 C256.38 205.72 256.47 205.49 256.56 205.25 C256.64 205.01 256.72 204.78 256.80 204.55 C256.87 204.31 256.94 204.08 257.01 203.85 C257.08 203.62 257.14 203.39 257.20 203.17 C257.26 202.94 257.31 202.71 257.36 202.49 C257.41 202.27 257.46 202.04 257.50 201.82 C257.55 201.60 257.59 201.38 257.62 201.16 C257.66 200.94 257.70 200.73 257.73 200.51 C257.76 200.29 257.79 200.08 257.81 199.87 C257.84 199.65 257.86 199.44 257.88 199.23 C257.90 199.01 257.92 198.80 257.93 198.59 C257.95 198.38 257.96 198.17 257.97 197.96 C257.98 197.75 257.99 197.54 257.99 197.33 C258.00 197.12 258.00 196.91 258.00 196.70 C258.00 196.49 258.00 196.28 257.99 196.07 C257.99 195.86 257.98 195.65 257.97 195.44 C257.96 195.23 257.95 195.02 257.93 194.81 C257.92 194.60 257.90 194.39 257.88 194.17 C257.86 193.96 257.84 193.75 257.81 193.53 C257.79 193.32 257.76 193.11 257.73 192.89 C257.70 192.67 257.66 192.46 257.63 192.24 C257.59 192.02 257.55 191.80 257.50 191.58 C257.46 191.36 257.41 191.13 257.36 190.91 C257.31 190.69 257.26 190.46 257.20 190.23 C257.14 190.01 257.08 189.78 257.01 189.55 C256.95 189.32 256.88 189.09 256.80 188.85 C256.72 188.62 256.64 188.38 256.56 188.15 C256.47 187.91 256.38 187.67 256.29 187.44 C256.19 187.20 256.09 186.96 255.98 186.71 C255.88 186.47 255.76 186.23 255.64 185.99 C255.52 185.75 255.40 185.50 255.26 185.26 C255.13 185.02 254.99 184.77 254.84 184.53 C254.69 184.29 254.54 184.05 254.37 183.81 C254.21 183.57 254.04 183.33 253.86 183.09 C253.67 182.86 253.49 182.63 253.29 182.40 C253.09 182.17 252.88 181.95 252.66 181.73 C252.45 181.51 252.22 181.30 251.99 181.10 C251.75 180.90 251.51 180.70 251.26 180.52 C251.01 180.34 250.74 180.16 250.47 180.00 C250.21 179.84 249.93 179.68 249.65 179.55 C249.36 179.41 249.07 179.29 248.77 179.19 C248.48 179.08 248.17 178.99 247.87 178.92 C247.56 178.85 247.25 178.79 246.94 178.75 C246.63 178.72 246.31 178.70 246.00 178.70 C245.69 178.70 245.37 178.71 245.06 178.75 C244.75 178.79 244.44 178.84 244.13 178.91 C243.82 178.99 243.52 179.08 243.22 179.18 C242.93 179.29 242.64 179.41 242.35 179.54 C242.07 179.68 241.79 179.83 241.52 179.99 C241.25 180.15 240.99 180.33 240.74 180.51 C240.49 180.70 240.24 180.89 240.01 181.09 C239.77 181.30 239.55 181.51 239.33 181.72 C239.12 181.94 238.91 182.16 238.71 182.39 C238.51 182.62 238.32 182.85 238.14 183.09 C237.96 183.32 237.79 183.56 237.62 183.80 C237.46 184.04 237.30 184.28 237.15 184.53 C237.01 184.77 236.87 185.01 236.73 185.26 C236.60 185.50 236.47 185.74 236.35 185.99 C236.23 186.23 236.12 186.47 236.01 186.71 C235.90 186.95 235.80 187.19 235.71 187.43 C235.61 187.67 235.52 187.91 235.44 188.15 C235.35 188.38 235.27 188.62 235.20 188.85 C235.12 189.09 235.05 189.32 234.99 189.55 C234.92 189.78 234.86 190.01 234.80 190.23 C234.74 190.46 234.69 190.69 234.64 190.91 C234.58 191.13 234.54 191.36 234.49 191.58 C234.45 191.80 234.41 192.02 234.37 192.24 C234.34 192.46 234.30 192.67 234.27 192.89 C234.24 193.11 234.21 193.32 234.19 193.53 C234.16 193.75 234.14 193.96 234.12 194.17 C234.10 194.39 234.08 194.60 234.07 194.81 C234.05 195.02 234.04 195.23 234.03 195.44 C234.02 195.65 234.01 195.86 234.01 196.07 C234.00 196.28 234.00 196.49 234.00 196.70Z" fill="none" stroke="#a59bd4" stroke-width="0.6"/>
<path d="M228.49 196.70 C228.49 197.01 228.50 197.31 228.50 197.62 C228.51 197.92 228.52 198.23 228.54 198.53 C228.55 198.84 228.57 199.15 228.59 199.46 C228.61 199.76 228.64 200.07 228.67 200.38 C228.70 200.69 228.73 201.00 228.77 201.32 C228.81 201.63 228.85 201.94 228.89 202.26 C228.94 202.57 228.99 202.89 229.04 203.21 C229.10 203.53 229.16 203.85 229.22 204.17 C229.28 204.49 229.35 204.82 229.42 205.14 C229.50 205.47 229.58 205.80 229.66 206.13 C229.75 206.46 229.84 206.79 229.93 207.13 C230.03 207.47 230.13 207.80 230.24 208.14 C230.35 208.48 230.47 208.83 230.59 209.17 C230.71 209.52 230.84 209.87 230.98 210.21 C231.12 210.56 231.27 210.92 231.43 211.27 C231.58 211.62 231.75 211.98 231.92 212.33 C232.09 212.68 232.28 213.04 232.47 213.40 C232.67 213.75 232.87 214.11 233.09 214.46 C233.30 214.82 233.53 215.17 233.77 215.53 C234.01 215.88 234.26 216.23 234.52 216.57 C234.79 216.91 235.06 217.25 235.35 217.59 C235.64 217.92 235.94 218.25 236.26 218.56 C236.58 218.88 236.91 219.19 237.25 219.48 C237.59 219.78 237.95 220.06 238.32 220.33 C238.68 220.60 239.07 220.85 239.46 221.08 C239.85 221.32 240.26 221.54 240.67 221.73 C241.09 221.93 241.51 222.10 241.95 222.25 C242.38 222.40 242.82 222.53 243.27 222.64 C243.71 222.74 244.17 222.82 244.62 222.87 C245.08 222.92 245.54 222.94 245.99 222.94 C246.45 222.93 246.91 222.90 247.36 222.85 C247.82 222.79 248.27 222.71 248.72 222.60 C249.16 222.49 249.60 222.36 250.03 222.21 C250.46 222.05 250.89 221.87 251.30 221.67 C251.71 221.47 252.12 221.25 252.51 221.02 C252.90 220.78 253.28 220.52 253.65 220.26 C254.01 219.99 254.37 219.70 254.71 219.41 C255.05 219.11 255.38 218.81 255.70 218.49 C256.01 218.18 256.31 217.85 256.60 217.52 C256.89 217.19 257.17 216.85 257.43 216.51 C257.69 216.17 257.94 215.82 258.18 215.47 C258.42 215.12 258.65 214.77 258.87 214.42 C259.08 214.07 259.29 213.71 259.48 213.36 C259.68 213.01 259.86 212.65 260.04 212.30 C260.21 211.95 260.38 211.59 260.54 211.24 C260.69 210.89 260.84 210.54 260.98 210.20 C261.12 209.85 261.25 209.50 261.38 209.16 C261.50 208.81 261.62 208.47 261.73 208.13 C261.84 207.79 261.94 207.46 262.04 207.12 C262.14 206.79 262.23 206.45 262.31 206.12 C262.40 205.79 262.48 205.46 262.55 205.14 C262.63 204.81 262.70 204.49 262.76 204.17 C262.83 203.84 262.89 203.52 262.94 203.21 C263.00 202.89 263.05 202.57 263.09 202.26 C263.14 201.94 263.18 201.63 263.22 201.32 C263.25 201.00 263.29 200.69 263.32 200.38 C263.35 200.07 263.37 199.76 263.40 199.46 C263.42 199.15 263.44 198.84 263.45 198.53 C263.46 198.23 263.48 197.92 263.48 197.62 C263.49 197.31 263.49 197.01 263.49 196.70 C263.50 196.39 263.49 196.09 263.49 195.78 C263.48 195.48 263.47 195.17 263.45 194.86 C263.44 194.56 263.42 194.25 263.40 193.94 C263.38 193.63 263.35 193.33 263.32 193.02 C263.30 192.71 263.26 192.40 263.23 192.08 C263.19 191.77 263.15 191.46 263.10 191.14 C263.06 190.83 263.01 190.51 262.95 190.19 C262.90 189.87 262.84 189.55 262.78 189.23 C262.71 188.91 262.64 188.58 262.57 188.25 C262.50 187.93 262.42 187.60 262.33 187.27 C262.25 186.94 262.16 186.60 262.06 186.27 C261.96 185.93 261.86 185.59 261.75 185.25 C261.64 184.91 261.52 184.57 261.40 184.23 C261.27 183.88 261.14 183.53 261.00 183.19 C260.86 182.84 260.72 182.49 260.56 182.13 C260.40 181.78 260.24 181.43 260.06 181.08 C259.89 180.72 259.70 180.37 259.51 180.01 C259.31 179.66 259.11 179.30 258.89 178.95 C258.67 178.60 258.45 178.24 258.21 177.89 C257.97 177.54 257.72 177.20 257.45 176.85 C257.19 176.51 256.91 176.17 256.62 175.84 C256.33 175.51 256.03 175.18 255.71 174.87 C255.40 174.55 255.07 174.24 254.73 173.95 C254.39 173.65 254.03 173.37 253.66 173.10 C253.29 172.83 252.91 172.57 252.52 172.34 C252.13 172.10 251.72 171.88 251.31 171.68 C250.90 171.48 250.47 171.30 250.04 171.15 C249.61 170.99 249.17 170.86 248.72 170.75 C248.27 170.64 247.82 170.56 247.37 170.51 C246.91 170.45 246.45 170.42 245.99 170.42 C245.54 170.42 245.07 170.44 244.62 170.49 C244.16 170.54 243.71 170.62 243.26 170.72 C242.82 170.83 242.37 170.96 241.94 171.11 C241.51 171.26 241.08 171.44 240.66 171.63 C240.25 171.83 239.84 172.04 239.45 172.28 C239.06 172.51 238.67 172.77 238.30 173.04 C237.93 173.30 237.58 173.59 237.23 173.88 C236.89 174.18 236.56 174.49 236.24 174.80 C235.93 175.12 235.62 175.45 235.33 175.78 C235.04 176.11 234.77 176.45 234.50 176.80 C234.24 177.14 233.99 177.49 233.75 177.84 C233.51 178.19 233.28 178.55 233.06 178.90 C232.85 179.26 232.64 179.62 232.45 179.97 C232.25 180.33 232.07 180.69 231.90 181.04 C231.72 181.40 231.56 181.76 231.40 182.11 C231.25 182.46 231.10 182.81 230.96 183.17 C230.82 183.52 230.69 183.86 230.57 184.21 C230.45 184.56 230.33 184.90 230.22 185.24 C230.11 185.58 230.01 185.92 229.91 186.26 C229.82 186.59 229.73 186.93 229.64 187.26 C229.56 187.59 229.48 187.92 229.41 188.25 C229.33 188.58 229.27 188.90 229.20 189.22 C229.14 189.55 229.08 189.87 229.03 190.19 C228.97 190.51 228.93 190.82 228.88 191.14 C228.84 191.46 228.80 191.77 228.76 192.08 C228.72 192.39 228.69 192.71 228.66 193.02 C228.63 193.33 228.61 193.63 228.59 193.94 C228.56 194.25 228.55 194.56 228.53 194.87 C228.52 195.17 228.51 195.48 228.50 195.78 C228.50 196.09 228.49 196.39 228.49 196.70Z" fill="none" stroke="#a59bd4" stroke-width="0.6"/>
<path d="M224.37 196.70 C224.37 197.08 224.37 197.46 224.38 197.83 C224.39 198.21 224.41 198.59 224.42 198.97 C224.44 199.34 224.47 199.72 224.49 200.10 C224.52 200.48 224.55 200.86 224.59 201.25 C224.63 201.63 224.67 202.01 224.71 202.40 C224.76 202.78 224.81 203.17 224.87 203.56 C224.92 203.95 224.98 204.34 225.05 204.73 C225.12 205.12 225.19 205.52 225.27 205.92 C225.35 206.32 225.43 206.72 225.52 207.12 C225.61 207.52 225.71 207.93 225.81 208.34 C225.92 208.75 226.03 209.16 226.14 209.57 C226.26 209.99 226.39 210.41 226.52 210.83 C226.66 211.25 226.80 211.67 226.95 212.10 C227.10 212.53 227.26 212.96 227.43 213.39 C227.60 213.82 227.78 214.26 227.97 214.70 C228.16 215.14 228.36 215.58 228.58 216.02 C228.79 216.46 229.01 216.90 229.25 217.34 C229.49 217.78 229.74 218.23 230.01 218.67 C230.27 219.11 230.55 219.55 230.85 219.99 C231.14 220.42 231.45 220.86 231.77 221.29 C232.10 221.71 232.44 222.14 232.80 222.55 C233.16 222.96 233.53 223.37 233.92 223.76 C234.31 224.15 234.72 224.53 235.14 224.90 C235.57 225.26 236.01 225.61 236.47 225.94 C236.92 226.27 237.40 226.58 237.88 226.86 C238.37 227.15 238.87 227.41 239.39 227.65 C239.90 227.89 240.43 228.10 240.97 228.28 C241.50 228.46 242.05 228.61 242.60 228.73 C243.15 228.85 243.71 228.94 244.27 228.99 C244.84 229.05 245.40 229.07 245.97 229.06 C246.53 229.05 247.10 229.00 247.66 228.93 C248.21 228.85 248.77 228.75 249.32 228.61 C249.87 228.47 250.41 228.30 250.94 228.11 C251.47 227.91 251.99 227.69 252.50 227.44 C253.01 227.19 253.50 226.92 253.98 226.62 C254.47 226.33 254.93 226.02 255.38 225.68 C255.83 225.35 256.27 225.00 256.69 224.64 C257.11 224.28 257.51 223.90 257.90 223.51 C258.29 223.12 258.66 222.72 259.02 222.32 C259.37 221.91 259.71 221.49 260.04 221.08 C260.36 220.66 260.67 220.23 260.97 219.80 C261.26 219.38 261.54 218.94 261.81 218.51 C262.08 218.08 262.33 217.64 262.57 217.21 C262.82 216.78 263.04 216.34 263.26 215.91 C263.48 215.48 263.68 215.04 263.88 214.61 C264.07 214.18 264.25 213.75 264.43 213.33 C264.60 212.90 264.77 212.47 264.92 212.05 C265.08 211.63 265.22 211.21 265.36 210.79 C265.50 210.37 265.63 209.96 265.75 209.55 C265.87 209.14 265.98 208.73 266.09 208.32 C266.20 207.91 266.29 207.51 266.39 207.11 C266.48 206.71 266.57 206.31 266.65 205.91 C266.73 205.51 266.80 205.12 266.87 204.73 C266.94 204.33 267.00 203.94 267.06 203.56 C267.12 203.17 267.17 202.78 267.22 202.40 C267.27 202.01 267.31 201.63 267.35 201.25 C267.38 200.86 267.42 200.48 267.44 200.10 C267.47 199.72 267.49 199.35 267.51 198.97 C267.53 198.59 267.55 198.21 267.56 197.83 C267.57 197.46 267.57 197.08 267.57 196.70 C267.57 196.32 267.57 195.95 267.56 195.57 C267.55 195.19 267.54 194.81 267.53 194.44 C267.51 194.06 267.49 193.68 267.46 193.30 C267.44 192.92 267.41 192.54 267.37 192.15 C267.33 191.77 267.29 191.39 267.25 191.00 C267.20 190.61 267.15 190.23 267.10 189.84 C267.04 189.45 266.98 189.05 266.91 188.66 C266.85 188.27 266.78 187.87 266.70 187.47 C266.62 187.07 266.53 186.67 266.44 186.27 C266.35 185.87 266.25 185.46 266.15 185.05 C266.04 184.64 265.93 184.23 265.81 183.81 C265.69 183.40 265.56 182.98 265.43 182.56 C265.29 182.14 265.15 181.72 264.99 181.29 C264.84 180.87 264.68 180.44 264.50 180.01 C264.33 179.58 264.15 179.15 263.96 178.71 C263.76 178.28 263.56 177.84 263.34 177.41 C263.12 176.97 262.90 176.53 262.66 176.09 C262.41 175.66 262.16 175.22 261.89 174.78 C261.62 174.35 261.34 173.91 261.05 173.48 C260.75 173.05 260.44 172.62 260.11 172.20 C259.79 171.77 259.45 171.36 259.09 170.95 C258.73 170.54 258.36 170.13 257.97 169.75 C257.58 169.36 257.17 168.97 256.75 168.61 C256.33 168.24 255.89 167.89 255.44 167.56 C254.98 167.23 254.51 166.91 254.03 166.61 C253.55 166.32 253.05 166.05 252.54 165.80 C252.03 165.55 251.50 165.32 250.97 165.13 C250.43 164.94 249.89 164.77 249.34 164.63 C248.79 164.49 248.23 164.39 247.66 164.31 C247.10 164.24 246.53 164.20 245.97 164.19 C245.40 164.18 244.83 164.20 244.27 164.26 C243.70 164.32 243.14 164.41 242.59 164.53 C242.03 164.65 241.48 164.81 240.94 164.99 C240.41 165.17 239.88 165.38 239.36 165.62 C238.84 165.86 238.34 166.12 237.85 166.41 C237.36 166.70 236.88 167.01 236.43 167.34 C235.97 167.67 235.52 168.02 235.10 168.38 C234.67 168.74 234.26 169.13 233.86 169.52 C233.47 169.91 233.09 170.32 232.73 170.73 C232.37 171.14 232.03 171.57 231.70 172.00 C231.38 172.42 231.06 172.86 230.77 173.30 C230.47 173.74 230.19 174.18 229.93 174.62 C229.66 175.07 229.41 175.51 229.17 175.96 C228.93 176.40 228.70 176.85 228.49 177.29 C228.28 177.74 228.08 178.18 227.89 178.62 C227.70 179.06 227.52 179.50 227.35 179.94 C227.18 180.37 227.02 180.81 226.87 181.24 C226.72 181.67 226.58 182.10 226.45 182.52 C226.31 182.94 226.19 183.37 226.07 183.78 C225.96 184.20 225.85 184.62 225.75 185.03 C225.64 185.44 225.55 185.85 225.46 186.25 C225.37 186.66 225.29 187.06 225.21 187.46 C225.14 187.86 225.07 188.26 225.00 188.65 C224.94 189.05 224.88 189.44 224.82 189.83 C224.77 190.22 224.72 190.61 224.68 191.00 C224.63 191.38 224.59 191.77 224.56 192.15 C224.53 192.54 224.50 192.92 224.47 193.30 C224.45 193.68 224.43 194.06 224.41 194.44 C224.39 194.82 224.38 195.19 224.37 195.57 C224.37 195.95 224.36 196.32 224.37 196.70Z" fill="none" stroke="#a59bd4" stroke-width="0.6"/>
<path d="M220.90 196.71 C220.90 197.15 220.91 197.58 220.92 198.02 C220.93 198.46 220.95 198.89 220.97 199.33 C221.00 199.77 221.02 200.21 221.06 200.65 C221.09 201.09 221.13 201.53 221.17 201.97 C221.21 202.41 221.26 202.85 221.31 203.30 C221.37 203.75 221.43 204.19 221.49 204.64 C221.56 205.09 221.63 205.54 221.71 206.00 C221.78 206.45 221.87 206.91 221.96 207.37 C222.05 207.83 222.14 208.30 222.25 208.76 C222.35 209.23 222.46 209.70 222.58 210.18 C222.70 210.65 222.82 211.13 222.96 211.61 C223.09 212.09 223.24 212.58 223.39 213.07 C223.54 213.56 223.70 214.05 223.88 214.55 C224.05 215.04 224.23 215.54 224.43 216.05 C224.62 216.55 224.82 217.06 225.04 217.57 C225.26 218.08 225.49 218.59 225.73 219.11 C225.98 219.62 226.24 220.14 226.51 220.66 C226.78 221.18 227.07 221.70 227.37 222.21 C227.68 222.73 228.00 223.25 228.34 223.76 C228.68 224.27 229.03 224.78 229.41 225.28 C229.78 225.78 230.18 226.27 230.59 226.76 C231.01 227.24 231.44 227.71 231.89 228.17 C232.35 228.62 232.82 229.07 233.32 229.49 C233.81 229.91 234.33 230.31 234.86 230.69 C235.39 231.07 235.95 231.42 236.51 231.75 C237.08 232.07 237.67 232.37 238.27 232.63 C238.86 232.89 239.48 233.13 240.10 233.32 C240.72 233.52 241.36 233.68 242.00 233.81 C242.64 233.93 243.29 234.02 243.94 234.07 C244.59 234.12 245.25 234.13 245.90 234.11 C246.55 234.08 247.21 234.02 247.85 233.92 C248.49 233.82 249.14 233.69 249.77 233.52 C250.40 233.35 251.02 233.15 251.63 232.91 C252.24 232.68 252.84 232.41 253.43 232.12 C254.01 231.83 254.58 231.51 255.13 231.17 C255.69 230.83 256.22 230.46 256.74 230.08 C257.26 229.69 257.76 229.29 258.24 228.87 C258.73 228.45 259.19 228.01 259.64 227.57 C260.09 227.12 260.51 226.66 260.92 226.20 C261.33 225.73 261.73 225.25 262.10 224.77 C262.48 224.29 262.83 223.80 263.18 223.31 C263.52 222.83 263.84 222.33 264.15 221.83 C264.46 221.34 264.76 220.84 265.04 220.34 C265.32 219.85 265.58 219.35 265.84 218.85 C266.09 218.36 266.33 217.86 266.55 217.36 C266.78 216.87 266.99 216.38 267.20 215.89 C267.40 215.40 267.59 214.91 267.77 214.42 C267.95 213.94 268.13 213.46 268.29 212.98 C268.45 212.50 268.60 212.02 268.74 211.55 C268.89 211.07 269.02 210.60 269.14 210.13 C269.27 209.66 269.39 209.20 269.50 208.74 C269.61 208.27 269.71 207.81 269.80 207.35 C269.90 206.90 269.99 206.44 270.07 205.99 C270.15 205.54 270.23 205.09 270.29 204.64 C270.36 204.19 270.43 203.74 270.48 203.30 C270.54 202.85 270.59 202.41 270.63 201.97 C270.68 201.53 270.72 201.09 270.75 200.65 C270.79 200.21 270.82 199.77 270.84 199.33 C270.86 198.90 270.88 198.46 270.89 198.02 C270.91 197.58 270.91 197.15 270.92 196.71 C270.92 196.28 270.91 195.84 270.91 195.40 C270.90 194.96 270.89 194.53 270.87 194.09 C270.85 193.65 270.83 193.21 270.80 192.77 C270.77 192.33 270.73 191.89 270.69 191.44 C270.65 191.00 270.61 190.55 270.56 190.11 C270.50 189.66 270.45 189.21 270.38 188.76 C270.32 188.30 270.25 187.85 270.17 187.39 C270.10 186.94 270.01 186.48 269.92 186.02 C269.83 185.55 269.73 185.09 269.63 184.62 C269.52 184.15 269.41 183.68 269.29 183.21 C269.17 182.74 269.04 182.26 268.90 181.78 C268.76 181.30 268.61 180.81 268.45 180.33 C268.29 179.84 268.13 179.35 267.95 178.86 C267.77 178.37 267.58 177.87 267.38 177.37 C267.18 176.87 266.97 176.37 266.74 175.87 C266.52 175.37 266.28 174.86 266.03 174.36 C265.78 173.85 265.51 173.35 265.23 172.84 C264.95 172.33 264.66 171.83 264.35 171.32 C264.04 170.82 263.71 170.31 263.37 169.82 C263.02 169.32 262.66 168.82 262.28 168.33 C261.91 167.84 261.51 167.36 261.10 166.89 C260.68 166.41 260.25 165.95 259.80 165.50 C259.35 165.04 258.88 164.60 258.39 164.18 C257.90 163.76 257.39 163.34 256.87 162.96 C256.34 162.57 255.80 162.20 255.24 161.86 C254.68 161.51 254.10 161.19 253.51 160.90 C252.92 160.61 252.31 160.34 251.70 160.11 C251.08 159.88 250.45 159.67 249.81 159.51 C249.17 159.34 248.52 159.21 247.87 159.11 C247.22 159.02 246.56 158.96 245.90 158.94 C245.24 158.92 244.58 158.94 243.92 158.99 C243.27 159.05 242.61 159.14 241.96 159.27 C241.32 159.40 240.68 159.57 240.05 159.77 C239.42 159.97 238.80 160.21 238.20 160.47 C237.59 160.74 237.00 161.04 236.43 161.37 C235.86 161.69 235.30 162.05 234.76 162.43 C234.22 162.80 233.70 163.21 233.20 163.63 C232.70 164.05 232.22 164.50 231.76 164.95 C231.30 165.41 230.86 165.88 230.44 166.37 C230.02 166.85 229.62 167.35 229.24 167.85 C228.86 168.35 228.50 168.87 228.15 169.38 C227.81 169.90 227.48 170.42 227.18 170.94 C226.87 171.46 226.58 171.99 226.31 172.52 C226.03 173.04 225.77 173.57 225.53 174.09 C225.29 174.61 225.06 175.13 224.84 175.65 C224.62 176.17 224.42 176.69 224.23 177.20 C224.04 177.71 223.86 178.22 223.69 178.72 C223.52 179.23 223.36 179.73 223.21 180.23 C223.06 180.72 222.92 181.22 222.79 181.70 C222.66 182.19 222.54 182.68 222.42 183.16 C222.31 183.64 222.20 184.11 222.10 184.59 C222.00 185.06 221.91 185.53 221.82 185.99 C221.74 186.46 221.66 186.92 221.59 187.38 C221.52 187.84 221.45 188.29 221.39 188.75 C221.33 189.20 221.28 189.65 221.23 190.10 C221.18 190.55 221.14 191.00 221.10 191.44 C221.06 191.88 221.03 192.33 221.00 192.77 C220.98 193.21 220.95 193.65 220.94 194.09 C220.92 194.53 220.91 194.96 220.90 195.40 C220.90 195.84 220.89 196.28 220.90 196.71Z" fill="none" stroke="#a59bd4" stroke-width="0.6"/>
<path d="M217.76 196.75 C217.77 197.23 217.78 197.72 217.79 198.21 C217.81 198.70 217.83 199.19 217.86 199.68 C217.89 200.17 217.92 200.66 217.96 201.15 C218.00 201.64 218.04 202.13 218.09 202.63 C218.14 203.12 218.19 203.62 218.25 204.12 C218.31 204.62 218.38 205.12 218.45 205.62 C218.52 206.12 218.60 206.63 218.69 207.14 C218.77 207.65 218.87 208.16 218.97 208.68 C219.07 209.19 219.17 209.71 219.29 210.24 C219.40 210.76 219.52 211.29 219.65 211.82 C219.78 212.35 219.92 212.89 220.07 213.43 C220.22 213.97 220.38 214.52 220.54 215.07 C220.71 215.62 220.89 216.18 221.08 216.74 C221.27 217.30 221.47 217.86 221.68 218.43 C221.89 219.00 222.12 219.58 222.36 220.16 C222.60 220.73 222.85 221.32 223.12 221.90 C223.39 222.48 223.67 223.07 223.97 223.66 C224.27 224.25 224.59 224.84 224.93 225.43 C225.26 226.02 225.62 226.61 225.99 227.19 C226.37 227.78 226.77 228.36 227.19 228.93 C227.61 229.50 228.05 230.06 228.51 230.61 C228.98 231.16 229.47 231.70 229.98 232.21 C230.49 232.72 231.03 233.22 231.58 233.69 C232.14 234.16 232.72 234.62 233.33 235.03 C233.93 235.45 234.56 235.84 235.20 236.19 C235.84 236.54 236.50 236.86 237.18 237.14 C237.86 237.42 238.55 237.66 239.25 237.86 C239.96 238.06 240.68 238.22 241.40 238.34 C242.12 238.45 242.85 238.53 243.58 238.56 C244.30 238.60 245.04 238.59 245.77 238.54 C246.49 238.49 247.22 238.40 247.94 238.27 C248.66 238.14 249.38 237.97 250.08 237.77 C250.78 237.56 251.47 237.32 252.15 237.05 C252.83 236.78 253.49 236.47 254.14 236.14 C254.79 235.80 255.42 235.44 256.03 235.05 C256.64 234.67 257.24 234.25 257.81 233.82 C258.39 233.39 258.95 232.94 259.48 232.47 C260.02 232.01 260.53 231.52 261.03 231.03 C261.53 230.53 262.00 230.02 262.46 229.51 C262.92 228.99 263.35 228.46 263.77 227.93 C264.19 227.40 264.59 226.86 264.97 226.32 C265.35 225.78 265.72 225.23 266.07 224.69 C266.41 224.14 266.74 223.59 267.06 223.04 C267.38 222.49 267.67 221.94 267.96 221.39 C268.24 220.85 268.51 220.30 268.77 219.75 C269.03 219.20 269.27 218.66 269.50 218.12 C269.73 217.58 269.95 217.03 270.16 216.50 C270.36 215.96 270.56 215.42 270.74 214.89 C270.93 214.36 271.10 213.83 271.26 213.30 C271.43 212.78 271.58 212.25 271.73 211.73 C271.87 211.21 272.01 210.70 272.13 210.18 C272.26 209.66 272.38 209.15 272.49 208.64 C272.60 208.13 272.70 207.63 272.79 207.12 C272.89 206.62 272.97 206.11 273.05 205.61 C273.14 205.11 273.21 204.61 273.27 204.12 C273.34 203.62 273.40 203.12 273.45 202.63 C273.51 202.14 273.55 201.64 273.59 201.15 C273.63 200.66 273.67 200.17 273.70 199.68 C273.73 199.19 273.75 198.70 273.76 198.21 C273.78 197.72 273.79 197.24 273.80 196.75 C273.80 196.26 273.80 195.77 273.79 195.28 C273.79 194.79 273.77 194.30 273.75 193.80 C273.74 193.31 273.71 192.82 273.68 192.32 C273.65 191.83 273.61 191.33 273.57 190.84 C273.53 190.34 273.48 189.84 273.42 189.34 C273.36 188.83 273.30 188.33 273.23 187.82 C273.16 187.32 273.08 186.81 273.00 186.29 C272.91 185.78 272.82 185.27 272.72 184.75 C272.62 184.23 272.51 183.71 272.39 183.18 C272.27 182.66 272.14 182.13 272.01 181.60 C271.87 181.06 271.72 180.53 271.57 179.99 C271.41 179.45 271.25 178.91 271.07 178.36 C270.89 177.82 270.70 177.27 270.50 176.72 C270.30 176.17 270.09 175.61 269.86 175.05 C269.63 174.49 269.40 173.93 269.14 173.37 C268.89 172.81 268.62 172.24 268.34 171.68 C268.06 171.11 267.76 170.54 267.44 169.98 C267.13 169.41 266.80 168.84 266.45 168.28 C266.10 167.72 265.73 167.15 265.35 166.59 C264.96 166.04 264.56 165.48 264.13 164.93 C263.71 164.39 263.26 163.85 262.80 163.32 C262.34 162.79 261.85 162.26 261.34 161.76 C260.84 161.25 260.31 160.75 259.77 160.28 C259.22 159.80 258.65 159.34 258.06 158.90 C257.48 158.47 256.87 158.05 256.24 157.66 C255.61 157.27 254.97 156.90 254.31 156.56 C253.65 156.23 252.97 155.92 252.28 155.65 C251.58 155.38 250.88 155.14 250.16 154.94 C249.45 154.74 248.72 154.58 247.98 154.45 C247.25 154.33 246.51 154.25 245.77 154.21 C245.03 154.17 244.28 154.17 243.54 154.21 C242.80 154.26 242.05 154.34 241.32 154.47 C240.59 154.60 239.86 154.77 239.15 154.98 C238.44 155.18 237.73 155.44 237.05 155.72 C236.36 156.01 235.69 156.33 235.03 156.69 C234.38 157.04 233.74 157.44 233.13 157.86 C232.52 158.27 231.92 158.73 231.35 159.20 C230.78 159.67 230.23 160.17 229.71 160.68 C229.19 161.20 228.69 161.74 228.21 162.29 C227.73 162.84 227.28 163.41 226.85 163.98 C226.42 164.56 226.01 165.15 225.63 165.74 C225.24 166.33 224.88 166.93 224.54 167.53 C224.20 168.13 223.87 168.73 223.57 169.34 C223.27 169.94 222.98 170.54 222.71 171.14 C222.45 171.74 222.19 172.34 221.96 172.94 C221.72 173.53 221.50 174.12 221.29 174.71 C221.08 175.29 220.89 175.88 220.71 176.45 C220.52 177.03 220.35 177.60 220.19 178.16 C220.03 178.73 219.88 179.29 219.74 179.84 C219.60 180.40 219.47 180.95 219.34 181.49 C219.22 182.04 219.11 182.57 219.00 183.11 C218.90 183.64 218.80 184.17 218.71 184.70 C218.62 185.22 218.53 185.75 218.46 186.26 C218.38 186.78 218.31 187.29 218.25 187.80 C218.19 188.32 218.13 188.82 218.08 189.33 C218.03 189.83 217.98 190.33 217.95 190.83 C217.91 191.33 217.88 191.83 217.85 192.32 C217.82 192.82 217.80 193.31 217.79 193.81 C217.77 194.30 217.76 194.79 217.76 195.28 C217.75 195.77 217.75 196.26 217.76 196.75Z" fill="none" stroke="#a59bd4" stroke-width="0.6"/>
<path d="M214.26 196.87 C214.27 197.41 214.29 197.96 214.31 198.50 C214.34 199.05 214.36 199.59 214.40 200.13 C214.43 200.68 214.47 201.22 214.52 201.77 C214.56 202.32 214.61 202.87 214.67 203.42 C214.72 203.97 214.79 204.52 214.85 205.07 C214.92 205.63 215.00 206.18 215.08 206.74 C215.16 207.31 215.25 207.87 215.34 208.44 C215.44 209.00 215.54 209.57 215.65 210.15 C215.75 210.72 215.87 211.30 215.99 211.89 C216.12 212.47 216.25 213.06 216.39 213.66 C216.53 214.25 216.68 214.86 216.84 215.46 C217.00 216.07 217.17 216.68 217.35 217.30 C217.53 217.92 217.72 218.55 217.93 219.18 C218.13 219.81 218.34 220.45 218.57 221.09 C218.80 221.74 219.04 222.39 219.30 223.04 C219.56 223.70 219.83 224.36 220.12 225.03 C220.41 225.69 220.72 226.37 221.04 227.04 C221.37 227.71 221.71 228.39 222.08 229.06 C222.45 229.74 222.84 230.42 223.25 231.08 C223.67 231.75 224.11 232.42 224.57 233.07 C225.04 233.73 225.53 234.37 226.05 235.00 C226.57 235.62 227.11 236.23 227.69 236.81 C228.27 237.39 228.87 237.96 229.50 238.48 C230.13 239.00 230.79 239.50 231.48 239.95 C232.16 240.41 232.87 240.82 233.60 241.20 C234.32 241.57 235.08 241.90 235.84 242.18 C236.61 242.46 237.40 242.69 238.19 242.88 C238.98 243.06 239.79 243.20 240.59 243.29 C241.40 243.38 242.22 243.42 243.03 243.42 C243.85 243.42 244.67 243.36 245.47 243.27 C246.28 243.18 247.09 243.03 247.88 242.86 C248.68 242.68 249.47 242.46 250.24 242.20 C251.01 241.95 251.77 241.65 252.52 241.33 C253.26 241.01 253.99 240.65 254.70 240.26 C255.41 239.88 256.10 239.46 256.77 239.02 C257.44 238.59 258.09 238.12 258.72 237.64 C259.35 237.16 259.96 236.66 260.55 236.14 C261.14 235.63 261.71 235.09 262.25 234.55 C262.80 234.01 263.32 233.45 263.83 232.89 C264.33 232.32 264.81 231.75 265.28 231.17 C265.74 230.59 266.18 230.00 266.61 229.41 C267.04 228.83 267.44 228.23 267.83 227.64 C268.22 227.04 268.59 226.45 268.94 225.85 C269.30 225.25 269.63 224.65 269.95 224.06 C270.28 223.46 270.58 222.86 270.87 222.27 C271.17 221.67 271.44 221.08 271.70 220.49 C271.97 219.89 272.22 219.30 272.45 218.72 C272.69 218.13 272.91 217.54 273.13 216.96 C273.34 216.38 273.54 215.79 273.73 215.22 C273.92 214.64 274.09 214.06 274.26 213.49 C274.43 212.92 274.59 212.35 274.74 211.78 C274.88 211.21 275.02 210.64 275.15 210.08 C275.28 209.52 275.40 208.96 275.51 208.40 C275.62 207.84 275.72 207.28 275.82 206.73 C275.91 206.17 276.00 205.62 276.08 205.07 C276.16 204.52 276.23 203.97 276.30 203.42 C276.36 202.87 276.42 202.32 276.47 201.78 C276.52 201.23 276.56 200.69 276.60 200.14 C276.63 199.59 276.66 199.05 276.68 198.50 C276.71 197.96 276.72 197.41 276.73 196.87 C276.74 196.32 276.74 195.78 276.74 195.23 C276.73 194.68 276.72 194.14 276.71 193.59 C276.69 193.04 276.67 192.49 276.63 191.93 C276.60 191.38 276.56 190.83 276.52 190.27 C276.47 189.71 276.42 189.15 276.36 188.59 C276.30 188.03 276.23 187.47 276.15 186.90 C276.08 186.33 275.99 185.76 275.90 185.19 C275.81 184.62 275.70 184.04 275.59 183.46 C275.48 182.88 275.36 182.30 275.23 181.71 C275.10 181.12 274.95 180.53 274.80 179.94 C274.65 179.34 274.49 178.74 274.31 178.14 C274.13 177.54 273.95 176.94 273.75 176.33 C273.55 175.72 273.34 175.11 273.11 174.49 C272.88 173.87 272.65 173.25 272.39 172.63 C272.14 172.01 271.87 171.39 271.58 170.76 C271.30 170.13 271.00 169.50 270.68 168.87 C270.36 168.24 270.03 167.61 269.68 166.98 C269.32 166.35 268.95 165.72 268.56 165.09 C268.17 164.47 267.76 163.84 267.33 163.22 C266.89 162.60 266.44 161.98 265.97 161.37 C265.49 160.76 265.00 160.16 264.48 159.57 C263.96 158.98 263.42 158.40 262.85 157.83 C262.29 157.27 261.70 156.71 261.09 156.18 C260.48 155.64 259.85 155.12 259.20 154.63 C258.54 154.14 257.87 153.66 257.17 153.21 C256.47 152.77 255.76 152.35 255.02 151.96 C254.28 151.57 253.53 151.21 252.76 150.89 C251.99 150.57 251.20 150.28 250.40 150.03 C249.60 149.78 248.78 149.57 247.96 149.41 C247.14 149.24 246.31 149.12 245.47 149.04 C244.64 148.96 243.80 148.93 242.96 148.94 C242.13 148.96 241.29 149.02 240.46 149.13 C239.63 149.24 238.80 149.40 237.99 149.60 C237.18 149.80 236.37 150.05 235.59 150.35 C234.80 150.64 234.03 150.98 233.28 151.36 C232.53 151.74 231.80 152.17 231.10 152.62 C230.40 153.08 229.71 153.58 229.06 154.11 C228.41 154.63 227.78 155.20 227.18 155.78 C226.58 156.36 226.01 156.98 225.47 157.60 C224.93 158.23 224.41 158.89 223.93 159.55 C223.44 160.21 222.99 160.89 222.56 161.58 C222.12 162.26 221.72 162.96 221.34 163.65 C220.96 164.35 220.61 165.05 220.28 165.75 C219.95 166.45 219.64 167.16 219.35 167.85 C219.06 168.55 218.79 169.24 218.54 169.93 C218.28 170.62 218.05 171.30 217.83 171.98 C217.61 172.65 217.40 173.32 217.21 173.98 C217.02 174.64 216.84 175.30 216.67 175.94 C216.51 176.59 216.35 177.23 216.21 177.86 C216.06 178.49 215.93 179.12 215.80 179.74 C215.67 180.35 215.56 180.96 215.45 181.57 C215.34 182.17 215.24 182.77 215.15 183.37 C215.06 183.96 214.97 184.55 214.90 185.13 C214.82 185.71 214.75 186.29 214.69 186.87 C214.63 187.44 214.57 188.01 214.52 188.58 C214.47 189.14 214.43 189.70 214.40 190.26 C214.36 190.82 214.33 191.38 214.31 191.93 C214.29 192.49 214.27 193.04 214.26 193.59 C214.25 194.14 214.24 194.69 214.24 195.23 C214.24 195.78 214.25 196.32 214.26 196.87Z" fill="none" stroke="#a59bd4" stroke-width="0.6"/>
<path d="M211.22 197.14 C211.24 197.73 211.26 198.32 211.29 198.91 C211.32 199.50 211.36 200.09 211.40 200.68 C211.44 201.27 211.49 201.86 211.54 202.45 C211.59 203.04 211.65 203.63 211.71 204.22 C211.78 204.82 211.84 205.42 211.92 206.02 C212.00 206.62 212.08 207.22 212.16 207.82 C212.25 208.43 212.35 209.04 212.45 209.65 C212.55 210.27 212.66 210.88 212.77 211.51 C212.89 212.13 213.01 212.76 213.14 213.40 C213.27 214.03 213.41 214.67 213.55 215.32 C213.70 215.97 213.86 216.62 214.02 217.28 C214.19 217.95 214.37 218.61 214.55 219.29 C214.74 219.97 214.94 220.65 215.15 221.35 C215.36 222.04 215.58 222.74 215.82 223.45 C216.06 224.16 216.30 224.88 216.57 225.61 C216.84 226.34 217.12 227.07 217.43 227.81 C217.73 228.55 218.05 229.30 218.39 230.05 C218.73 230.80 219.10 231.56 219.49 232.31 C219.88 233.07 220.29 233.83 220.73 234.58 C221.17 235.33 221.64 236.08 222.14 236.80 C222.64 237.53 223.17 238.26 223.74 238.95 C224.30 239.64 224.90 240.32 225.53 240.96 C226.16 241.60 226.83 242.22 227.52 242.78 C228.22 243.35 228.95 243.88 229.70 244.36 C230.45 244.83 231.24 245.27 232.05 245.64 C232.85 246.02 233.68 246.34 234.53 246.61 C235.37 246.87 236.24 247.08 237.11 247.24 C237.98 247.39 238.86 247.49 239.74 247.54 C240.63 247.58 241.52 247.57 242.40 247.51 C243.28 247.46 244.17 247.35 245.04 247.19 C245.91 247.04 246.78 246.84 247.63 246.61 C248.49 246.37 249.33 246.09 250.15 245.78 C250.98 245.46 251.79 245.11 252.58 244.74 C253.37 244.36 254.15 243.95 254.90 243.51 C255.65 243.08 256.39 242.61 257.10 242.13 C257.81 241.65 258.50 241.14 259.17 240.62 C259.84 240.10 260.49 239.56 261.11 239.00 C261.74 238.45 262.34 237.88 262.92 237.30 C263.51 236.73 264.07 236.13 264.61 235.54 C265.15 234.94 265.66 234.33 266.16 233.72 C266.66 233.11 267.14 232.50 267.60 231.88 C268.06 231.26 268.50 230.63 268.92 230.01 C269.34 229.38 269.75 228.76 270.14 228.13 C270.52 227.50 270.89 226.87 271.25 226.24 C271.60 225.61 271.94 224.99 272.26 224.36 C272.58 223.73 272.89 223.10 273.18 222.48 C273.47 221.85 273.75 221.23 274.02 220.60 C274.28 219.98 274.53 219.36 274.77 218.74 C275.01 218.12 275.23 217.50 275.45 216.89 C275.66 216.27 275.86 215.66 276.05 215.05 C276.24 214.43 276.42 213.82 276.59 213.22 C276.76 212.61 276.92 212.00 277.07 211.40 C277.21 210.79 277.35 210.19 277.48 209.59 C277.61 208.99 277.73 208.39 277.84 207.80 C277.95 207.20 278.05 206.60 278.14 206.01 C278.23 205.41 278.32 204.82 278.39 204.23 C278.47 203.64 278.54 203.05 278.60 202.46 C278.66 201.86 278.71 201.27 278.76 200.68 C278.80 200.09 278.84 199.50 278.87 198.91 C278.90 198.32 278.92 197.73 278.93 197.14 C278.95 196.55 278.96 195.96 278.96 195.36 C278.96 194.77 278.95 194.17 278.93 193.58 C278.92 192.98 278.90 192.38 278.87 191.78 C278.84 191.18 278.80 190.58 278.76 189.97 C278.71 189.37 278.66 188.76 278.59 188.15 C278.53 187.54 278.46 186.93 278.38 186.31 C278.30 185.69 278.21 185.07 278.11 184.45 C278.01 183.82 277.90 183.20 277.78 182.56 C277.66 181.93 277.53 181.30 277.39 180.66 C277.24 180.02 277.09 179.38 276.92 178.73 C276.76 178.09 276.58 177.44 276.39 176.78 C276.20 176.13 275.99 175.47 275.77 174.81 C275.56 174.15 275.32 173.49 275.08 172.82 C274.83 172.15 274.57 171.48 274.29 170.80 C274.01 170.13 273.72 169.45 273.41 168.78 C273.10 168.10 272.77 167.42 272.42 166.73 C272.07 166.05 271.71 165.37 271.32 164.69 C270.94 164.01 270.53 163.32 270.10 162.65 C269.68 161.97 269.23 161.29 268.76 160.62 C268.29 159.95 267.80 159.28 267.28 158.62 C266.76 157.97 266.22 157.31 265.66 156.67 C265.10 156.03 264.51 155.40 263.90 154.79 C263.29 154.17 262.65 153.57 261.99 152.99 C261.33 152.40 260.65 151.83 259.94 151.29 C259.23 150.75 258.50 150.22 257.75 149.73 C256.99 149.23 256.22 148.76 255.42 148.32 C254.62 147.88 253.80 147.46 252.97 147.09 C252.13 146.71 251.28 146.37 250.41 146.07 C249.54 145.77 248.65 145.51 247.76 145.29 C246.86 145.08 245.95 144.90 245.04 144.77 C244.13 144.65 243.21 144.57 242.29 144.54 C241.37 144.52 240.44 144.54 239.52 144.62 C238.60 144.69 237.69 144.82 236.78 145.01 C235.88 145.19 234.99 145.43 234.11 145.71 C233.24 146.00 232.37 146.34 231.54 146.73 C230.70 147.12 229.88 147.57 229.09 148.05 C228.30 148.54 227.54 149.07 226.81 149.64 C226.08 150.21 225.37 150.83 224.71 151.47 C224.04 152.11 223.40 152.79 222.80 153.49 C222.20 154.20 221.64 154.93 221.10 155.68 C220.57 156.42 220.07 157.19 219.60 157.96 C219.13 158.74 218.70 159.53 218.29 160.32 C217.88 161.11 217.51 161.91 217.16 162.70 C216.80 163.50 216.48 164.29 216.18 165.08 C215.87 165.87 215.60 166.66 215.34 167.44 C215.08 168.21 214.84 168.98 214.61 169.74 C214.39 170.50 214.19 171.26 213.99 172.00 C213.80 172.74 213.62 173.47 213.46 174.19 C213.29 174.91 213.14 175.63 212.99 176.33 C212.85 177.03 212.72 177.72 212.60 178.41 C212.47 179.09 212.36 179.77 212.26 180.44 C212.15 181.10 212.06 181.76 211.97 182.41 C211.88 183.07 211.80 183.71 211.73 184.35 C211.66 184.99 211.59 185.63 211.53 186.25 C211.48 186.88 211.43 187.50 211.39 188.12 C211.34 188.74 211.31 189.35 211.28 189.96 C211.25 190.57 211.22 191.18 211.21 191.78 C211.19 192.38 211.18 192.98 211.18 193.58 C211.17 194.18 211.17 194.77 211.18 195.37 C211.19 195.96 211.20 196.55 211.22 197.14Z" fill="none" stroke="#a59bd4" stroke-width="0.6"/>
<path d="M208.43 197.64 C208.46 198.27 208.49 198.89 208.53 199.52 C208.57 200.15 208.61 200.77 208.66 201.40 C208.71 202.03 208.76 202.65 208.82 203.28 C208.88 203.91 208.95 204.54 209.02 205.17 C209.09 205.80 209.16 206.44 209.24 207.08 C209.33 207.71 209.41 208.35 209.51 209.00 C209.60 209.64 209.70 210.29 209.81 210.94 C209.91 211.60 210.02 212.25 210.14 212.92 C210.26 213.58 210.39 214.25 210.52 214.93 C210.66 215.61 210.80 216.29 210.95 216.99 C211.10 217.68 211.26 218.38 211.43 219.09 C211.59 219.80 211.77 220.52 211.96 221.25 C212.15 221.98 212.35 222.72 212.56 223.47 C212.78 224.22 213.00 224.98 213.24 225.75 C213.48 226.52 213.73 227.30 214.00 228.10 C214.28 228.89 214.56 229.69 214.87 230.50 C215.18 231.31 215.50 232.14 215.86 232.96 C216.21 233.79 216.58 234.62 216.99 235.46 C217.39 236.29 217.82 237.13 218.28 237.95 C218.74 238.78 219.24 239.61 219.77 240.41 C220.30 241.22 220.86 242.01 221.47 242.77 C222.07 243.53 222.71 244.27 223.39 244.97 C224.07 245.66 224.79 246.32 225.54 246.92 C226.30 247.52 227.09 248.08 227.91 248.58 C228.73 249.07 229.59 249.51 230.47 249.87 C231.34 250.24 232.25 250.55 233.17 250.79 C234.08 251.02 235.02 251.19 235.96 251.30 C236.90 251.41 237.86 251.45 238.81 251.44 C239.76 251.43 240.71 251.35 241.65 251.22 C242.60 251.10 243.54 250.92 244.46 250.70 C245.39 250.48 246.30 250.20 247.20 249.90 C248.10 249.59 248.98 249.24 249.85 248.87 C250.71 248.49 251.56 248.08 252.38 247.65 C253.21 247.21 254.01 246.75 254.80 246.26 C255.58 245.78 256.34 245.27 257.09 244.75 C257.83 244.22 258.54 243.68 259.24 243.12 C259.94 242.57 260.61 241.99 261.26 241.41 C261.92 240.83 262.55 240.23 263.16 239.63 C263.77 239.02 264.35 238.41 264.92 237.79 C265.49 237.17 266.03 236.55 266.56 235.92 C267.09 235.29 267.60 234.65 268.08 234.01 C268.57 233.37 269.04 232.73 269.49 232.09 C269.94 231.45 270.38 230.80 270.79 230.16 C271.21 229.51 271.61 228.86 271.99 228.21 C272.38 227.57 272.74 226.92 273.09 226.27 C273.44 225.62 273.78 224.97 274.10 224.33 C274.42 223.68 274.73 223.03 275.02 222.38 C275.31 221.74 275.59 221.09 275.85 220.45 C276.12 219.80 276.37 219.16 276.61 218.51 C276.84 217.87 277.07 217.23 277.28 216.59 C277.50 215.95 277.70 215.31 277.89 214.67 C278.08 214.03 278.25 213.39 278.42 212.76 C278.59 212.12 278.74 211.49 278.89 210.85 C279.04 210.22 279.17 209.59 279.30 208.96 C279.42 208.33 279.54 207.70 279.65 207.07 C279.75 206.44 279.85 205.81 279.94 205.18 C280.03 204.55 280.11 203.92 280.18 203.30 C280.25 202.67 280.31 202.04 280.37 201.41 C280.42 200.78 280.47 200.16 280.51 199.53 C280.54 198.90 280.57 198.27 280.60 197.64 C280.62 197.01 280.63 196.38 280.64 195.74 C280.64 195.11 280.64 194.47 280.63 193.84 C280.62 193.20 280.60 192.56 280.58 191.92 C280.55 191.28 280.51 190.63 280.47 189.99 C280.42 189.34 280.37 188.69 280.31 188.03 C280.24 187.38 280.17 186.72 280.09 186.06 C280.01 185.40 279.91 184.74 279.81 184.07 C279.71 183.40 279.59 182.73 279.46 182.06 C279.34 181.38 279.20 180.70 279.05 180.02 C278.89 179.33 278.73 178.65 278.55 177.96 C278.38 177.27 278.18 176.57 277.98 175.87 C277.77 175.17 277.55 174.47 277.32 173.77 C277.08 173.06 276.83 172.35 276.57 171.64 C276.30 170.93 276.02 170.21 275.72 169.49 C275.42 168.78 275.10 168.05 274.77 167.33 C274.43 166.61 274.08 165.88 273.71 165.16 C273.33 164.43 272.94 163.71 272.53 162.98 C272.11 162.26 271.68 161.53 271.22 160.81 C270.76 160.09 270.28 159.37 269.78 158.66 C269.27 157.95 268.74 157.24 268.19 156.54 C267.64 155.84 267.06 155.14 266.46 154.46 C265.86 153.78 265.23 153.11 264.58 152.45 C263.93 151.80 263.25 151.15 262.55 150.52 C261.84 149.90 261.12 149.29 260.36 148.70 C259.61 148.11 258.83 147.54 258.03 146.99 C257.23 146.45 256.41 145.92 255.56 145.43 C254.71 144.94 253.84 144.47 252.95 144.04 C252.06 143.61 251.15 143.21 250.22 142.86 C249.29 142.50 248.34 142.17 247.38 141.90 C246.42 141.62 245.45 141.39 244.46 141.21 C243.48 141.03 242.48 140.89 241.48 140.81 C240.49 140.73 239.48 140.70 238.48 140.73 C237.48 140.77 236.48 140.85 235.49 141.00 C234.50 141.15 233.52 141.36 232.56 141.63 C231.60 141.90 230.64 142.23 229.72 142.62 C228.80 143.01 227.89 143.46 227.02 143.97 C226.15 144.47 225.31 145.03 224.50 145.64 C223.70 146.25 222.92 146.91 222.19 147.61 C221.45 148.31 220.76 149.05 220.10 149.82 C219.44 150.60 218.83 151.41 218.25 152.23 C217.67 153.06 217.13 153.92 216.63 154.78 C216.13 155.65 215.67 156.53 215.24 157.42 C214.81 158.30 214.42 159.20 214.05 160.09 C213.69 160.98 213.36 161.87 213.05 162.75 C212.74 163.63 212.46 164.51 212.20 165.38 C211.94 166.24 211.70 167.10 211.48 167.94 C211.26 168.79 211.06 169.62 210.88 170.44 C210.69 171.26 210.52 172.07 210.36 172.86 C210.20 173.66 210.06 174.44 209.92 175.21 C209.79 175.98 209.66 176.73 209.55 177.48 C209.43 178.23 209.33 178.96 209.23 179.69 C209.14 180.41 209.05 181.13 208.97 181.84 C208.89 182.54 208.82 183.24 208.76 183.93 C208.69 184.62 208.64 185.31 208.59 185.98 C208.54 186.66 208.50 187.33 208.46 187.99 C208.43 188.66 208.40 189.32 208.38 189.97 C208.36 190.62 208.35 191.27 208.34 191.92 C208.33 192.56 208.33 193.20 208.34 193.84 C208.34 194.48 208.35 195.11 208.37 195.75 C208.38 196.38 208.41 197.01 208.43 197.64Z" fill="none" stroke="#a59bd4" stroke-width="0.6"/>
<path d="M205.65 198.50 C205.69 199.16 205.73 199.82 205.78 200.48 C205.83 201.14 205.88 201.80 205.94 202.46 C206.00 203.12 206.06 203.78 206.13 204.45 C206.19 205.11 206.27 205.77 206.34 206.43 C206.42 207.10 206.50 207.77 206.59 208.44 C206.68 209.11 206.77 209.78 206.87 210.46 C206.97 211.14 207.07 211.82 207.18 212.51 C207.29 213.20 207.41 213.89 207.53 214.60 C207.65 215.30 207.78 216.01 207.92 216.73 C208.05 217.44 208.19 218.17 208.34 218.90 C208.50 219.64 208.65 220.39 208.82 221.14 C208.99 221.90 209.16 222.67 209.35 223.45 C209.54 224.23 209.74 225.02 209.95 225.82 C210.16 226.63 210.38 227.44 210.62 228.28 C210.86 229.11 211.11 229.95 211.38 230.81 C211.65 231.67 211.93 232.54 212.24 233.43 C212.55 234.31 212.88 235.21 213.23 236.11 C213.59 237.01 213.97 237.93 214.38 238.84 C214.79 239.76 215.23 240.68 215.71 241.59 C216.19 242.49 216.70 243.41 217.26 244.29 C217.81 245.17 218.41 246.04 219.05 246.87 C219.69 247.69 220.37 248.50 221.10 249.25 C221.83 249.99 222.60 250.70 223.41 251.33 C224.22 251.97 225.08 252.55 225.97 253.05 C226.85 253.55 227.78 253.98 228.73 254.33 C229.68 254.68 230.66 254.96 231.65 255.15 C232.64 255.35 233.65 255.46 234.66 255.51 C235.67 255.56 236.70 255.53 237.71 255.44 C238.72 255.35 239.74 255.18 240.73 254.98 C241.73 254.77 242.72 254.50 243.69 254.19 C244.66 253.89 245.62 253.53 246.56 253.14 C247.49 252.76 248.41 252.33 249.30 251.88 C250.20 251.43 251.07 250.95 251.92 250.45 C252.77 249.96 253.60 249.43 254.41 248.90 C255.21 248.36 255.99 247.81 256.75 247.24 C257.51 246.68 258.25 246.09 258.97 245.50 C259.68 244.92 260.38 244.31 261.05 243.71 C261.72 243.10 262.37 242.48 263.00 241.86 C263.63 241.24 264.24 240.61 264.83 239.98 C265.42 239.34 265.99 238.71 266.54 238.07 C267.09 237.43 267.62 236.78 268.14 236.13 C268.65 235.49 269.15 234.84 269.62 234.19 C270.10 233.54 270.56 232.88 271.01 232.23 C271.45 231.57 271.88 230.92 272.29 230.26 C272.71 229.60 273.10 228.94 273.48 228.28 C273.86 227.62 274.23 226.96 274.58 226.30 C274.93 225.64 275.26 224.98 275.58 224.32 C275.90 223.66 276.21 222.99 276.50 222.33 C276.79 221.67 277.07 221.00 277.33 220.34 C277.59 219.68 277.84 219.01 278.08 218.35 C278.32 217.69 278.54 217.02 278.76 216.36 C278.97 215.70 279.17 215.04 279.36 214.37 C279.55 213.71 279.72 213.05 279.89 212.39 C280.05 211.73 280.21 211.07 280.35 210.41 C280.49 209.75 280.63 209.09 280.75 208.43 C280.87 207.76 280.99 207.10 281.09 206.44 C281.19 205.78 281.28 205.12 281.37 204.46 C281.45 203.80 281.53 203.14 281.59 202.48 C281.66 201.82 281.71 201.15 281.76 200.49 C281.81 199.83 281.85 199.16 281.88 198.50 C281.91 197.83 281.93 197.16 281.94 196.49 C281.96 195.82 281.96 195.15 281.96 194.47 C281.95 193.80 281.94 193.12 281.91 192.44 C281.89 191.76 281.86 191.08 281.82 190.39 C281.78 189.71 281.73 189.02 281.66 188.32 C281.60 187.63 281.53 186.93 281.44 186.23 C281.36 185.53 281.27 184.82 281.16 184.11 C281.05 183.41 280.93 182.69 280.80 181.98 C280.67 181.26 280.52 180.54 280.36 179.81 C280.20 179.09 280.03 178.36 279.84 177.63 C279.65 176.89 279.45 176.16 279.23 175.42 C279.01 174.68 278.78 173.94 278.53 173.19 C278.27 172.44 278.01 171.69 277.72 170.94 C277.44 170.19 277.14 169.43 276.82 168.67 C276.50 167.91 276.16 167.15 275.80 166.39 C275.44 165.63 275.06 164.86 274.66 164.10 C274.27 163.33 273.85 162.57 273.40 161.81 C272.96 161.04 272.50 160.28 272.01 159.52 C271.52 158.76 271.01 158.00 270.48 157.25 C269.94 156.50 269.38 155.76 268.79 155.02 C268.21 154.28 267.60 153.55 266.96 152.83 C266.32 152.12 265.66 151.40 264.97 150.71 C264.28 150.01 263.56 149.33 262.82 148.66 C262.08 147.99 261.31 147.34 260.52 146.70 C259.73 146.07 258.91 145.45 258.07 144.86 C257.22 144.26 256.35 143.69 255.46 143.14 C254.57 142.59 253.65 142.07 252.71 141.58 C251.77 141.09 250.80 140.62 249.82 140.20 C248.84 139.77 247.83 139.38 246.81 139.04 C245.79 138.69 244.75 138.38 243.69 138.13 C242.64 137.88 241.57 137.67 240.50 137.53 C239.43 137.38 238.34 137.29 237.26 137.26 C236.18 137.24 235.09 137.27 234.01 137.37 C232.94 137.48 231.86 137.64 230.81 137.88 C229.76 138.12 228.71 138.43 227.70 138.81 C226.69 139.19 225.69 139.65 224.74 140.16 C223.78 140.68 222.85 141.26 221.97 141.90 C221.09 142.54 220.24 143.25 219.43 144.01 C218.63 144.76 217.87 145.57 217.16 146.42 C216.44 147.26 215.78 148.16 215.16 149.07 C214.53 149.98 213.96 150.93 213.43 151.89 C212.90 152.85 212.41 153.84 211.96 154.82 C211.52 155.81 211.11 156.81 210.74 157.80 C210.36 158.79 210.03 159.78 209.72 160.77 C209.41 161.75 209.14 162.72 208.88 163.68 C208.63 164.64 208.40 165.59 208.19 166.53 C207.98 167.46 207.79 168.38 207.62 169.28 C207.44 170.18 207.29 171.07 207.14 171.94 C206.99 172.81 206.86 173.66 206.74 174.50 C206.62 175.34 206.51 176.16 206.41 176.97 C206.31 177.78 206.22 178.57 206.13 179.36 C206.05 180.14 205.98 180.91 205.91 181.67 C205.84 182.43 205.78 183.18 205.73 183.92 C205.68 184.66 205.64 185.39 205.60 186.12 C205.56 186.84 205.53 187.56 205.51 188.26 C205.49 188.97 205.47 189.67 205.46 190.37 C205.46 191.07 205.45 191.75 205.46 192.44 C205.46 193.13 205.47 193.80 205.49 194.48 C205.50 195.16 205.53 195.83 205.55 196.50 C205.58 197.17 205.61 197.83 205.65 198.50Z" fill="none" stroke="#a59bd4" stroke-width="0.6"/>
<path d="M202.88 199.83 C202.93 200.53 202.99 201.22 203.04 201.91 C203.10 202.60 203.17 203.29 203.23 203.98 C203.30 204.67 203.37 205.36 203.45 206.05 C203.53 206.74 203.61 207.43 203.69 208.13 C203.78 208.82 203.87 209.52 203.96 210.22 C204.05 210.92 204.15 211.62 204.26 212.33 C204.36 213.04 204.47 213.76 204.58 214.48 C204.69 215.20 204.81 215.92 204.93 216.66 C205.06 217.40 205.18 218.14 205.32 218.89 C205.45 219.65 205.59 220.41 205.74 221.19 C205.89 221.96 206.05 222.75 206.21 223.55 C206.38 224.35 206.55 225.16 206.73 225.99 C206.91 226.82 207.10 227.66 207.31 228.52 C207.51 229.38 207.73 230.25 207.96 231.14 C208.19 232.03 208.44 232.94 208.70 233.87 C208.96 234.79 209.24 235.73 209.55 236.69 C209.85 237.65 210.17 238.62 210.53 239.60 C210.88 240.59 211.26 241.59 211.67 242.58 C212.09 243.58 212.54 244.59 213.03 245.58 C213.52 246.57 214.04 247.57 214.62 248.53 C215.20 249.48 215.82 250.44 216.49 251.33 C217.17 252.23 217.89 253.10 218.66 253.90 C219.44 254.69 220.26 255.45 221.13 256.11 C222.00 256.77 222.92 257.37 223.88 257.87 C224.83 258.37 225.83 258.79 226.85 259.11 C227.87 259.44 228.93 259.67 229.99 259.81 C231.05 259.95 232.13 260.00 233.21 259.97 C234.29 259.94 235.38 259.82 236.45 259.64 C237.52 259.46 238.59 259.20 239.64 258.89 C240.69 258.59 241.73 258.21 242.74 257.81 C243.75 257.40 244.74 256.95 245.70 256.47 C246.67 255.99 247.61 255.48 248.53 254.95 C249.45 254.42 250.34 253.86 251.20 253.30 C252.07 252.73 252.91 252.15 253.73 251.56 C254.55 250.97 255.34 250.36 256.11 249.75 C256.88 249.15 257.63 248.53 258.36 247.91 C259.09 247.29 259.79 246.67 260.47 246.04 C261.16 245.41 261.82 244.78 262.47 244.15 C263.11 243.51 263.74 242.88 264.34 242.24 C264.95 241.60 265.54 240.96 266.11 240.31 C266.68 239.67 267.23 239.03 267.77 238.38 C268.31 237.73 268.83 237.09 269.33 236.44 C269.84 235.78 270.32 235.13 270.79 234.48 C271.27 233.82 271.72 233.17 272.16 232.51 C272.60 231.85 273.03 231.19 273.44 230.53 C273.85 229.87 274.24 229.20 274.62 228.54 C275.00 227.87 275.36 227.20 275.71 226.53 C276.06 225.86 276.39 225.19 276.71 224.52 C277.03 223.84 277.34 223.17 277.63 222.49 C277.92 221.81 278.20 221.13 278.46 220.46 C278.72 219.78 278.97 219.10 279.21 218.41 C279.45 217.73 279.67 217.05 279.88 216.37 C280.09 215.68 280.29 215.00 280.48 214.32 C280.66 213.63 280.84 212.95 281.00 212.26 C281.16 211.58 281.31 210.89 281.45 210.20 C281.59 209.52 281.72 208.83 281.84 208.14 C281.96 207.45 282.07 206.76 282.16 206.07 C282.26 205.38 282.35 204.69 282.43 204.00 C282.51 203.31 282.57 202.62 282.63 201.92 C282.69 201.22 282.74 200.53 282.78 199.83 C282.82 199.13 282.85 198.43 282.87 197.73 C282.89 197.02 282.91 196.32 282.91 195.61 C282.91 194.90 282.90 194.19 282.89 193.47 C282.87 192.75 282.84 192.04 282.80 191.31 C282.77 190.59 282.72 189.86 282.66 189.13 C282.60 188.40 282.53 187.67 282.44 186.93 C282.36 186.19 282.26 185.45 282.15 184.70 C282.04 183.95 281.92 183.20 281.78 182.44 C281.65 181.69 281.50 180.93 281.33 180.17 C281.16 179.40 280.98 178.63 280.78 177.86 C280.58 177.09 280.37 176.32 280.14 175.54 C279.90 174.76 279.66 173.98 279.39 173.20 C279.12 172.41 278.84 171.63 278.54 170.84 C278.24 170.05 277.92 169.25 277.58 168.46 C277.24 167.66 276.88 166.87 276.50 166.07 C276.12 165.27 275.72 164.47 275.29 163.67 C274.87 162.87 274.43 162.07 273.96 161.27 C273.49 160.48 273.00 159.68 272.48 158.89 C271.97 158.10 271.43 157.30 270.86 156.52 C270.29 155.74 269.70 154.96 269.09 154.19 C268.47 153.42 267.83 152.66 267.16 151.90 C266.49 151.15 265.79 150.41 265.07 149.67 C264.34 148.94 263.59 148.22 262.82 147.51 C262.04 146.81 261.24 146.11 260.41 145.43 C259.58 144.76 258.73 144.09 257.84 143.45 C256.96 142.80 256.05 142.17 255.12 141.57 C254.19 140.96 253.23 140.37 252.24 139.81 C251.26 139.26 250.24 138.72 249.21 138.23 C248.18 137.73 247.12 137.26 246.04 136.83 C244.96 136.41 243.85 136.02 242.74 135.69 C241.62 135.36 240.48 135.07 239.33 134.84 C238.18 134.62 237.02 134.45 235.85 134.35 C234.69 134.25 233.51 134.22 232.35 134.26 C231.19 134.31 230.02 134.43 228.88 134.63 C227.73 134.83 226.59 135.11 225.49 135.47 C224.39 135.83 223.30 136.27 222.25 136.80 C221.21 137.32 220.19 137.92 219.23 138.59 C218.27 139.27 217.34 140.02 216.47 140.83 C215.59 141.63 214.77 142.51 214.00 143.43 C213.23 144.35 212.51 145.33 211.85 146.33 C211.19 147.33 210.58 148.39 210.02 149.45 C209.46 150.51 208.95 151.60 208.49 152.69 C208.02 153.78 207.61 154.89 207.23 155.99 C206.85 157.08 206.52 158.19 206.22 159.27 C205.91 160.36 205.65 161.44 205.40 162.50 C205.16 163.56 204.95 164.60 204.75 165.63 C204.56 166.65 204.39 167.66 204.23 168.65 C204.07 169.63 203.94 170.60 203.81 171.55 C203.68 172.49 203.57 173.42 203.47 174.33 C203.36 175.24 203.27 176.12 203.19 177.00 C203.11 177.87 203.03 178.72 202.97 179.57 C202.90 180.41 202.84 181.23 202.79 182.05 C202.74 182.86 202.70 183.66 202.66 184.45 C202.63 185.24 202.60 186.01 202.58 186.78 C202.56 187.55 202.54 188.31 202.53 189.06 C202.53 189.81 202.53 190.55 202.53 191.28 C202.54 192.02 202.55 192.75 202.57 193.47 C202.59 194.19 202.61 194.90 202.64 195.62 C202.67 196.33 202.71 197.03 202.75 197.73 C202.79 198.44 202.83 199.13 202.88 199.83Z" fill="none" stroke="#a59bd4" stroke-width="0.6"/>
<path d="M218.20 276.70 C217.88 275.63 217.42 274.00 216.30 270.30 C215.18 266.60 213.12 259.55 211.50 254.50 C209.88 249.45 207.95 244.92 206.60 240.00 C205.25 235.08 204.37 230.00 203.40 225.00 C202.43 220.00 201.50 215.77 200.80 210.00 C200.10 204.23 199.28 196.10 199.20 190.40 C199.12 184.70 199.73 181.53 200.30 175.80 C200.87 170.07 201.78 160.97 202.60 156.00 C203.42 151.03 204.37 149.00 205.20 146.00 C206.03 143.00 206.73 140.13 207.60 138.00 C208.47 135.87 209.07 134.65 210.40 133.20 C211.73 131.75 214.00 130.13 215.60 129.30 C217.20 128.47 217.93 128.42 220.00 128.20 C222.07 127.98 224.67 127.27 228.00 128.00 C231.33 128.73 236.33 130.80 240.00 132.60 C243.67 134.40 246.92 136.77 250.00 138.80 C253.08 140.83 255.73 142.72 258.50 144.80 C261.27 146.88 264.18 148.68 266.60 151.30 C269.02 153.92 270.93 156.97 273.00 160.50 C275.07 164.03 277.45 168.58 279.00 172.50 C280.55 176.42 281.62 180.12 282.30 184.00 C282.98 187.88 283.03 192.13 283.10 195.80 C283.17 199.47 283.08 202.63 282.70 206.00 C282.32 209.37 281.83 212.42 280.80 216.00 C279.77 219.58 278.55 223.67 276.50 227.50 C274.45 231.33 271.72 235.25 268.50 239.00 C265.28 242.75 260.28 247.17 257.20 250.00 C254.12 252.83 252.82 253.88 250.00 256.00 C247.18 258.12 243.93 260.27 240.30 262.70 C236.67 265.13 230.22 269.28 228.20 270.60 L218.20 276.70 Z" fill="none" stroke="#c060a8" stroke-width="0.6"/>
<path d="M218.20 276.70 L198.40 283.30 L184.50 290.00" fill="none" stroke="#c060a8" stroke-width="0.6"/>
<path d="M218.20 276.70 L228.10 296.40 L236.60 318.80" fill="none" stroke="#c060a8" stroke-width="0.6"/>
</g>
<g id="redlines">
<path d="M247.5 47.0 L256.5 136" stroke="#ed1c24" stroke-width="1.1" fill="none"/>
<path d="M256.5 136.0 L267.9 247.6" stroke="#ed1c24" stroke-width="1.10" fill="none" stroke-dasharray="3.4 1.4"/><path d="M268.5 254.0 L263.6 245.9 L267.9 247.6 L271.7 245.0 Z" fill="#ed1c24"/>
</g>
<g id="plasma2">
<path d="M195.60 258.80 L195.60 170.00 L196.20 133.00 L201.10 120.60 L211.20 113.30 L222.10 113.30 L233.00 116.20 L243.00 122.30 L255.00 131.80 L262.00 139.00 L268.70 146.20 L274.50 153.40 L281.80 169.40 L285.30 178.70 L286.90 188.00 L287.20 199.00 L286.50 207.80 L284.40 218.50 L281.20 227.30 L277.10 235.00 L271.20 243.50 L265.70 252.00 L264.00 254.20 L250.00 264.40 L245.00 269.60 L243.90 271.40 L242.70 273.00 L239.70 272.40" fill="none" stroke="#4db76c" stroke-width="1.0" stroke-linejoin="round"/>
<path d="M195.70 258.80 C196.42 259.10 198.68 259.80 200.00 260.60 C201.32 261.40 202.70 262.40 203.60 263.60 C204.50 264.80 205.05 266.48 205.40 267.80 C205.75 269.12 205.65 270.88 205.70 271.50" fill="none" stroke="#4db76c" stroke-width="0.7"/>
<path d="M201.20 287.10 C201.82 286.67 203.57 285.17 204.90 284.50 C206.23 283.83 207.52 283.27 209.20 283.10 C210.88 282.93 213.30 282.92 215.00 283.50 C216.70 284.08 218.30 285.27 219.40 286.60 C220.50 287.93 221.05 290.23 221.60 291.50 C222.15 292.77 222.12 293.55 222.70 294.20 C223.28 294.85 224.70 295.20 225.10 295.40" fill="none" stroke="#4db76c" stroke-width="0.8"/>
<path d="M184.60 286.00 C185.85 285.20 189.63 283.02 192.10 281.20 C194.57 279.38 197.48 277.33 199.40 275.10 C201.32 272.87 202.70 270.42 203.60 267.80 C204.50 265.18 204.70 262.42 204.80 259.40 C204.90 256.38 204.60 252.93 204.20 249.70 C203.80 246.47 203.17 243.78 202.40 240.00 C201.63 236.22 200.52 232.33 199.60 227.00 C198.68 221.67 197.53 213.17 196.90 208.00 C196.27 202.83 195.98 199.83 195.80 196.00 C195.62 192.17 195.73 189.00 195.80 185.00 C195.87 181.00 195.95 177.50 196.20 172.00 C196.45 166.50 196.97 157.00 197.30 152.00 C197.63 147.00 197.87 145.17 198.20 142.00 C198.53 138.83 198.80 136.33 199.30 133.00 C199.80 129.67 200.32 125.60 201.20 122.00 C202.08 118.40 204.03 113.17 204.60 111.40" fill="none" stroke="#111" stroke-width="1.5"/>
<path d="M204.60 111.40 C206.55 111.97 212.42 113.52 216.30 114.80 C220.18 116.08 223.95 117.35 227.90 119.10 C231.85 120.85 236.70 123.27 240.00 125.30 C243.30 127.33 245.37 129.58 247.70 131.30 C250.03 133.02 251.95 134.10 254.00 135.60 C256.05 137.10 257.55 137.93 260.00 140.30 C262.45 142.67 266.37 146.77 268.70 149.80 C271.03 152.83 272.07 155.13 274.00 158.50 C275.93 161.87 278.77 166.63 280.30 170.00 C281.83 173.37 282.42 175.55 283.20 178.70 C283.98 181.85 284.65 185.75 285.00 188.90 C285.35 192.05 285.37 194.45 285.30 197.60 C285.23 200.75 285.08 204.42 284.60 207.80 C284.12 211.18 283.47 214.42 282.40 217.90 C281.33 221.38 279.87 225.20 278.20 228.70 C276.53 232.20 274.38 235.72 272.40 238.90 C270.42 242.08 268.62 244.97 266.30 247.80 C263.98 250.63 261.22 253.33 258.50 255.90 C255.78 258.47 252.70 260.88 250.00 263.20 C247.30 265.52 244.58 267.83 242.30 269.80 C240.02 271.77 237.82 273.27 236.30 275.00 C234.78 276.73 233.88 278.20 233.20 280.20 C232.52 282.20 232.23 284.37 232.20 287.00 C232.17 289.63 232.57 293.33 233.00 296.00 C233.43 298.67 234.08 300.42 234.80 303.00 C235.52 305.58 236.57 308.75 237.30 311.50 C238.03 314.25 238.88 318.17 239.20 319.50" fill="none" stroke="#111" stroke-width="1.7"/>
<path d="M204.6 111.4 L209.8 96.3 M204.6 111.4 L183.6 107.1" fill="none" stroke="#111" stroke-width="1.25"/>
<path d="M201.7 108.5 L207.5 114.3 M201.7 114.3 L207.5 108.5" stroke="#111" stroke-width="1.3"/>
<path d="M215.5 274.0 L220.9 279.4 M215.5 279.4 L220.9 274.0" stroke="#1a1a1a" stroke-width="1.0"/>
<path d="M184.2 97.50 L194.0 95.80" stroke="#858585" stroke-width="0.45"/>
<path d="M184.2 99.50 L193.4 97.60" stroke="#858585" stroke-width="0.45"/>
<path d="M184.2 101.40 L191.5 99.90" stroke="#858585" stroke-width="0.45"/>
<circle cx="246.0" cy="196.7" r="0.9" fill="#111"/>
<path d="M222.50 296.00 C223.17 297.08 225.17 300.00 226.50 302.50 C227.83 305.00 229.20 308.17 230.50 311.00 C231.80 313.83 233.67 318.08 234.30 319.50" fill="none" stroke="#a59bd4" stroke-width="0.7"/>
<path d="M212.50 291.80 C213.42 292.25 216.25 293.13 218.00 294.50 C219.75 295.87 221.33 297.58 223.00 300.00 C224.67 302.42 226.50 306.00 228.00 309.00 C229.50 312.00 231.12 315.95 232.00 318.00 C232.88 320.05 233.08 320.75 233.30 321.30" fill="none" stroke="#a59bd4" stroke-width="0.7"/>
<path d="M186.00 292.30 C187.33 292.12 191.17 291.22 194.00 291.20 C196.83 291.18 200.00 291.32 203.00 292.20 C206.00 293.08 209.17 294.70 212.00 296.50 C214.83 298.30 217.50 300.25 220.00 303.00 C222.50 305.75 225.25 309.92 227.00 313.00 C228.75 316.08 229.92 320.08 230.50 321.50" fill="none" stroke="#a59bd4" stroke-width="0.7"/>
<path d="M184.10 297.10 C185.42 296.77 189.17 295.17 192.00 295.10 C194.83 295.03 197.75 295.55 201.10 296.70 C204.45 297.85 208.95 300.03 212.10 302.00 C215.25 303.97 217.68 306.17 220.00 308.50 C222.32 310.83 224.58 313.75 226.00 316.00 C227.42 318.25 228.08 321.00 228.50 322.00" fill="none" stroke="#a59bd4" stroke-width="0.7"/>
<path d="M184.10 302.50 C185.65 302.17 190.25 300.58 193.40 300.50 C196.55 300.42 199.88 301.10 203.00 302.00 C206.12 302.90 209.35 304.32 212.10 305.90 C214.85 307.48 217.43 309.48 219.50 311.50 C221.57 313.52 223.42 316.25 224.50 318.00 C225.58 319.75 225.75 321.33 226.00 322.00" fill="none" stroke="#a59bd4" stroke-width="0.7"/>
<path d="M184.10 308.30 C185.65 307.90 190.08 305.98 193.40 305.90 C196.72 305.82 200.88 307.00 204.00 307.80 C207.12 308.60 209.68 309.50 212.10 310.70 C214.52 311.90 216.77 313.45 218.50 315.00 C220.23 316.55 221.70 318.78 222.50 320.00 C223.30 321.22 223.17 321.92 223.30 322.30" fill="none" stroke="#a59bd4" stroke-width="0.7"/>
<path d="M184.10 313.20 C185.80 312.78 190.82 310.78 194.30 310.70 C197.78 310.62 202.03 312.05 205.00 312.70 C207.97 313.35 210.02 313.72 212.10 314.60 C214.18 315.48 216.10 316.77 217.50 318.00 C218.90 319.23 220.00 321.33 220.50 322.00" fill="none" stroke="#a59bd4" stroke-width="0.7"/>
<path d="M184.10 317.00 C185.80 316.68 190.98 315.17 194.30 315.10 C197.62 315.03 201.03 316.03 204.00 316.60 C206.97 317.17 210.10 317.68 212.10 318.50 C214.10 319.32 215.35 321.00 216.00 321.50" fill="none" stroke="#a59bd4" stroke-width="0.7"/>
<path d="M190.40 319.50 C192.18 319.33 198.17 318.42 201.10 318.50 C204.03 318.58 206.18 319.42 208.00 320.00 C209.82 320.58 211.33 321.67 212.00 322.00" fill="none" stroke="#a59bd4" stroke-width="0.7"/>
<rect x="227.3" y="106.7" width="6.4" height="6" fill="#d9202a"/>
<rect x="264.3" y="255.1" width="6.6" height="6.4" fill="#d9202a"/>
<circle cx="198.4" cy="283.3" r="3.3" fill="#b9529f"/>
<circle cx="228.1" cy="296.4" r="3.3" fill="#b9529f"/>
<circle cx="283.1" cy="195.8" r="3.3" fill="#b9529f"/>
<circle cx="266.6" cy="151.3" r="3.3" fill="#b9529f"/>
<circle cx="220.0" cy="125.7" r="3.3" fill="#b9529f"/>
<circle cx="199.2" cy="190.4" r="3.3" fill="#b9529f"/>
<text x="194.2" y="297.6" font-size="13.40" fill="#b9529f" text-anchor="start" font-family="'Liberation Sans', sans-serif" textLength="5.4" lengthAdjust="spacingAndGlyphs" stroke="#b9529f" stroke-width="0.12">1</text>
<text x="218.3" y="307.2" font-size="13.40" fill="#b9529f" text-anchor="start" font-family="'Liberation Sans', sans-serif" textLength="6.6" lengthAdjust="spacingAndGlyphs" stroke="#b9529f" stroke-width="0.12">2</text>
<text x="289.6" y="200.2" font-size="13.40" fill="#b9529f" text-anchor="start" font-family="'Liberation Sans', sans-serif" textLength="6.6" lengthAdjust="spacingAndGlyphs" stroke="#b9529f" stroke-width="0.12">3</text>
<text x="272.8" y="155.6" font-size="13.40" fill="#b9529f" text-anchor="start" font-family="'Liberation Sans', sans-serif" textLength="6.8" lengthAdjust="spacingAndGlyphs" stroke="#b9529f" stroke-width="0.12">4</text>
<text x="208.6" y="128.9" font-size="13.40" fill="#b9529f" text-anchor="start" font-family="'Liberation Sans', sans-serif" textLength="6.6" lengthAdjust="spacingAndGlyphs" stroke="#b9529f" stroke-width="0.12">5</text>
<text x="185.9" y="195.8" font-size="13.40" fill="#b9529f" text-anchor="start" font-family="'Liberation Sans', sans-serif" textLength="6.6" lengthAdjust="spacingAndGlyphs" stroke="#b9529f" stroke-width="0.12">6</text>
</g>
<g id="annot">
<path d="M244.9 47.0 L231.2 99.1" stroke="#ed1c24" stroke-width="1.10" fill="none"/><path d="M229.6 105.3 L227.5 96.1 L231.2 99.1 L236.0 98.3 Z" fill="#ed1c24"/>
<path d="M347.8 179.5 L294.0 92.6" stroke="#5bb947" stroke-width="1.20" fill="none"/><path d="M290.4 86.8 L298.8 91.7 L294.0 92.6 L291.0 96.5 Z" fill="#5bb947"/>
<path d="M361.9 181.7 L361.8 159.2" stroke="#5bb947" stroke-width="1.20" fill="none"/><path d="M361.8 152.4 L366.4 161.0 L361.8 159.2 L357.2 161.0 Z" fill="#5bb947"/>
<path d="M361.4 217.8 L361.3 234.8" stroke="#5bb947" stroke-width="1.20" fill="none"/><path d="M361.3 241.6 L356.7 233.0 L361.3 234.8 L365.9 233.0 Z" fill="#5bb947"/>
<path d="M348.0 222.5 L296.8 325.4" stroke="#5bb947" stroke-width="1.20" fill="none"/><path d="M293.8 331.5 L293.5 321.8 L296.8 325.4 L301.7 325.8 Z" fill="#5bb947"/>
<path d="M55.5 174.6 L112.5 146.0" stroke="#417cc3" stroke-width="1.20" fill="none"/><path d="M118.6 143.0 L113.0 151.0 L112.5 146.0 L108.9 142.7 Z" fill="#417cc3"/>
<path d="M57.5 243.6 L113.2 273.3" stroke="#417cc3" stroke-width="1.20" fill="none"/><path d="M119.2 276.5 L109.4 276.5 L113.2 273.3 L113.8 268.4 Z" fill="#417cc3"/>
<path d="M241.5 369.0 L204.7 293.0" stroke="#b9529f" stroke-width="1.10" fill="none"/><path d="M202.1 287.6 L209.5 292.9 L204.7 293.0 L201.7 296.7 Z" fill="#b9529f"/>
</g>
<g id="labels">
<text transform="translate(214.46,26.00) scale(0.9742,1)" font-size="16.40" fill="#ed1c24" font-family="'Liberation Sans', sans-serif">In-vessel</text>
<text transform="translate(281.50,26.00) scale(1.0202,1)" font-size="16.40" fill="#ed1c24" font-family="'Liberation Sans', sans-serif">VS</text>
<text transform="translate(307.96,26.00) scale(0.9792,1)" font-size="16.40" fill="#ed1c24" font-family="'Liberation Sans', sans-serif">coils</text>
<text transform="translate(215.70,43.50) scale(0.8189,1)" font-size="16.40" fill="#ed1c24" font-family="'Liberation Sans', sans-serif">VS3</text>
<text transform="translate(246.18,43.50) scale(1.1041,1)" font-size="16.40" fill="#ed1c24" font-family="'Liberation Sans', sans-serif">circuit</text>
<text transform="translate(269.98,65.70) scale(0.9283,1)" font-size="16.40" fill="#5bb947" font-family="'Liberation Sans', sans-serif">PF2</text>
<text transform="translate(347.27,129.90) scale(0.9406,1)" font-size="16.40" fill="#5bb947" font-family="'Liberation Sans', sans-serif">PF3</text>
<text transform="translate(346.99,276.80) scale(0.9211,1)" font-size="16.40" fill="#5bb947" font-family="'Liberation Sans', sans-serif">PF4</text>
<text transform="translate(272.18,370.30) scale(0.9300,1)" font-size="16.40" fill="#5bb947" font-family="'Liberation Sans', sans-serif">PF5</text>
<text transform="translate(349.00,197.60) scale(0.8763,1)" font-size="16.40" fill="#5bb947" font-family="'Liberation Sans', sans-serif">VS1</text>
<text transform="translate(348.29,215.00) scale(1.0804,1)" font-size="16.40" fill="#5bb947" font-family="'Liberation Sans', sans-serif">circuit</text>
<text transform="translate(0.47,199.00) scale(0.9666,1)" font-size="16.40" fill="#417cc3" font-family="'Liberation Sans', sans-serif">OH</text>
<text transform="translate(28.28,199.00) scale(0.9960,1)" font-size="16.40" fill="#417cc3" font-family="'Liberation Sans', sans-serif">Coils</text>
<text transform="translate(0.84,216.40) scale(0.8748,1)" font-size="16.40" fill="#417cc3" font-family="'Liberation Sans', sans-serif">in</text>
<text transform="translate(16.90,216.40) scale(0.9457,1)" font-size="16.40" fill="#417cc3" font-family="'Liberation Sans', sans-serif">VS2</text>
<text transform="translate(0.41,233.80) scale(1.0591,1)" font-size="16.40" fill="#417cc3" font-family="'Liberation Sans', sans-serif">circuit</text>
<text transform="translate(180.23,39.90) scale(0.7660,1)" font-size="15.90" fill="#231f20" stroke="#231f20" stroke-width="0.35" font-family="'Liberation Sans', sans-serif">PF1</text>
<text transform="translate(187.32,384.00) scale(0.8494,1)" font-size="15.90" fill="#231f20" stroke="#231f20" stroke-width="0.35" font-family="'Liberation Sans', sans-serif">PF6</text>
<text transform="translate(235.93,447.60) scale(0.9224,1)" font-size="15.90" fill="#231f20" stroke="#231f20" stroke-width="0.35" font-family="'Liberation Sans', sans-serif">R</text>
<text transform="translate(249.55,447.60) scale(1.1027,1)" font-size="15.90" fill="#231f20" stroke="#231f20" stroke-width="0.35" font-family="'Liberation Sans', sans-serif">(m)</text>
<text transform="translate(235.10,384.50) scale(0.8845,1)" font-size="13.60" fill="#b9529f" font-family="'Liberation Sans', sans-serif">Gap</text>
<text transform="translate(261.68,384.50) scale(1.0009,1)" font-size="13.60" fill="#b9529f" font-family="'Liberation Sans', sans-serif">locations</text>
<text transform="translate(235.18,399.90) scale(0.8806,1)" font-size="13.60" fill="#b9529f" font-family="'Liberation Sans', sans-serif">for</text>
<text transform="translate(253.94,399.90) scale(0.9534,1)" font-size="13.60" fill="#b9529f" font-family="'Liberation Sans', sans-serif">shape</text>
<text transform="translate(293.03,399.90) scale(1.0423,1)" font-size="13.60" fill="#b9529f" font-family="'Liberation Sans', sans-serif">control</text>
<text transform="translate(132.40,117.26) rotate(-90) scale(0.8546,1.100)" font-size="15.40" fill="#231f20" stroke="#231f20" stroke-width="0.3" font-family="'Liberation Sans', sans-serif">CS3U</text>
<text transform="translate(133.80,159.82) rotate(-90) scale(0.9337,1.100)" font-size="15.40" fill="#417cc3" stroke="#417cc3" stroke-width="0.3" font-family="'Liberation Sans', sans-serif">CS2U</text>
<text transform="translate(135.10,205.75) rotate(-90) scale(0.8495,1.100)" font-size="15.40" fill="#231f20" stroke="#231f20" stroke-width="0.3" font-family="'Liberation Sans', sans-serif">CS1U</text>
<text transform="translate(134.40,246.23) rotate(-90) scale(0.8246,1.100)" font-size="15.40" fill="#231f20" stroke="#231f20" stroke-width="0.3" font-family="'Liberation Sans', sans-serif">CS1L</text>
<text transform="translate(134.80,290.32) rotate(-90) scale(0.9317,1.100)" font-size="15.40" fill="#417cc3" stroke="#417cc3" stroke-width="0.3" font-family="'Liberation Sans', sans-serif">CS2L</text>
<text transform="translate(135.10,335.25) rotate(-90) scale(0.8380,1.100)" font-size="15.40" fill="#231f20" stroke="#231f20" stroke-width="0.3" font-family="'Liberation Sans', sans-serif">CS3L</text>
<text transform="translate(85.30,224.86) rotate(-90) scale(1.0035,1.100)" font-size="15.40" fill="#231f20" stroke="#231f20" stroke-width="0.3" font-family="'Liberation Sans', sans-serif">Z</text>
<text transform="translate(85.30,211.56) rotate(-90) scale(1.0354,1.100)" font-size="15.40" fill="#231f20" stroke="#231f20" stroke-width="0.3" font-family="'Liberation Sans', sans-serif">(m)</text>
</g>
<g id="frame">
<rect x="109.0" y="6.1" width="295.4" height="403.8" fill="none" stroke="#1a1a1a" stroke-width="1.6"/>
<path d="M130.10 6.10 v3.2 M130.10 409.90 v-3.2 M151.20 6.10 v4.6 M151.20 409.90 v-4.6 M172.30 6.10 v3.2 M172.30 409.90 v-3.2 M193.40 6.10 v4.6 M193.40 409.90 v-4.6 M214.50 6.10 v3.2 M214.50 409.90 v-3.2 M235.60 6.10 v4.6 M235.60 409.90 v-4.6 M256.70 6.10 v3.2 M256.70 409.90 v-3.2 M277.80 6.10 v4.6 M277.80 409.90 v-4.6 M298.90 6.10 v3.2 M298.90 409.90 v-3.2 M320.00 6.10 v4.6 M320.00 409.90 v-4.6 M341.10 6.10 v3.2 M341.10 409.90 v-3.2 M362.20 6.10 v4.6 M362.20 409.90 v-4.6 M383.30 6.10 v3.2 M383.30 409.90 v-3.2 M109.00 26.29 h3.4 M404.40 26.29 h-3.4 M109.00 46.48 h4.8 M404.40 46.48 h-4.8 M109.00 66.67 h3.4 M404.40 66.67 h-3.4 M109.00 86.86 h4.8 M404.40 86.86 h-4.8 M109.00 107.05 h3.4 M404.40 107.05 h-3.4 M109.00 127.24 h4.8 M404.40 127.24 h-4.8 M109.00 147.43 h3.4 M404.40 147.43 h-3.4 M109.00 167.62 h4.8 M404.40 167.62 h-4.8 M109.00 187.81 h3.4 M404.40 187.81 h-3.4 M109.00 208.00 h4.8 M404.40 208.00 h-4.8 M109.00 228.19 h3.4 M404.40 228.19 h-3.4 M109.00 248.38 h4.8 M404.40 248.38 h-4.8 M109.00 268.57 h3.4 M404.40 268.57 h-3.4 M109.00 288.76 h4.8 M404.40 288.76 h-4.8 M109.00 308.95 h3.4 M404.40 308.95 h-3.4 M109.00 329.14 h4.8 M404.40 329.14 h-4.8 M109.00 349.33 h3.4 M404.40 349.33 h-3.4 M109.00 369.52 h4.8 M404.40 369.52 h-4.8 M109.00 389.71 h3.4 M404.40 389.71 h-3.4 " stroke="#111" stroke-width="1.4" fill="none"/>
<text x="109.0" y="429.8" font-size="15.60" fill="#1a1a1a" text-anchor="middle" font-family="'DejaVu Serif', serif" textLength="10.5" lengthAdjust="spacingAndGlyphs" >0</text>
<text x="151.2" y="429.8" font-size="15.60" fill="#1a1a1a" text-anchor="middle" font-family="'DejaVu Serif', serif" textLength="10.5" lengthAdjust="spacingAndGlyphs" >2</text>
<text x="193.4" y="429.8" font-size="15.60" fill="#1a1a1a" text-anchor="middle" font-family="'DejaVu Serif', serif" textLength="10.5" lengthAdjust="spacingAndGlyphs" >4</text>
<text x="235.6" y="429.8" font-size="15.60" fill="#1a1a1a" text-anchor="middle" font-family="'DejaVu Serif', serif" textLength="10.5" lengthAdjust="spacingAndGlyphs" >6</text>
<text x="277.8" y="429.8" font-size="15.60" fill="#1a1a1a" text-anchor="middle" font-family="'DejaVu Serif', serif" textLength="10.5" lengthAdjust="spacingAndGlyphs" >8</text>
<text x="320.0" y="429.8" font-size="15.60" fill="#1a1a1a" text-anchor="middle" font-family="'DejaVu Serif', serif" textLength="21.0" lengthAdjust="spacingAndGlyphs" >10</text>
<text x="362.2" y="429.8" font-size="15.60" fill="#1a1a1a" text-anchor="middle" font-family="'DejaVu Serif', serif" textLength="21.0" lengthAdjust="spacingAndGlyphs" >12</text>
<text x="404.4" y="429.8" font-size="15.60" fill="#1a1a1a" text-anchor="middle" font-family="'DejaVu Serif', serif" textLength="21.0" lengthAdjust="spacingAndGlyphs" >14</text>
<text x="101.6" y="12.1" font-size="15.60" fill="#1a1a1a" text-anchor="end" font-family="'DejaVu Serif', serif" textLength="21.0" lengthAdjust="spacingAndGlyphs" >10</text>
<text x="100.6" y="51.7" font-size="15.60" fill="#1a1a1a" text-anchor="end" font-family="'DejaVu Serif', serif" textLength="10.5" lengthAdjust="spacingAndGlyphs" >8</text>
<text x="100.6" y="92.1" font-size="15.60" fill="#1a1a1a" text-anchor="end" font-family="'DejaVu Serif', serif" textLength="10.5" lengthAdjust="spacingAndGlyphs" >6</text>
<text x="100.6" y="132.4" font-size="15.60" fill="#1a1a1a" text-anchor="end" font-family="'DejaVu Serif', serif" textLength="10.5" lengthAdjust="spacingAndGlyphs" >4</text>
<text x="100.6" y="172.8" font-size="15.60" fill="#1a1a1a" text-anchor="end" font-family="'DejaVu Serif', serif" textLength="10.5" lengthAdjust="spacingAndGlyphs" >2</text>
<text x="100.6" y="213.2" font-size="15.60" fill="#1a1a1a" text-anchor="end" font-family="'DejaVu Serif', serif" textLength="10.5" lengthAdjust="spacingAndGlyphs" >0</text>
<text x="102.6" y="253.6" font-size="15.60" fill="#1a1a1a" text-anchor="end" font-family="'DejaVu Serif', serif" textLength="23.1" lengthAdjust="spacingAndGlyphs" >−2</text>
<text x="102.6" y="294.0" font-size="15.60" fill="#1a1a1a" text-anchor="end" font-family="'DejaVu Serif', serif" textLength="23.1" lengthAdjust="spacingAndGlyphs" >−4</text>
<text x="102.6" y="334.3" font-size="15.60" fill="#1a1a1a" text-anchor="end" font-family="'DejaVu Serif', serif" textLength="23.1" lengthAdjust="spacingAndGlyphs" >−6</text>
<text x="102.6" y="374.7" font-size="15.60" fill="#1a1a1a" text-anchor="end" font-family="'DejaVu Serif', serif" textLength="23.1" lengthAdjust="spacingAndGlyphs" >−8</text>
<text x="104.4" y="416.1" font-size="15.60" fill="#1a1a1a" text-anchor="end" font-family="'DejaVu Serif', serif" textLength="33.6" lengthAdjust="spacingAndGlyphs" >−10</text>
</g>
</svg>
</body></html>
